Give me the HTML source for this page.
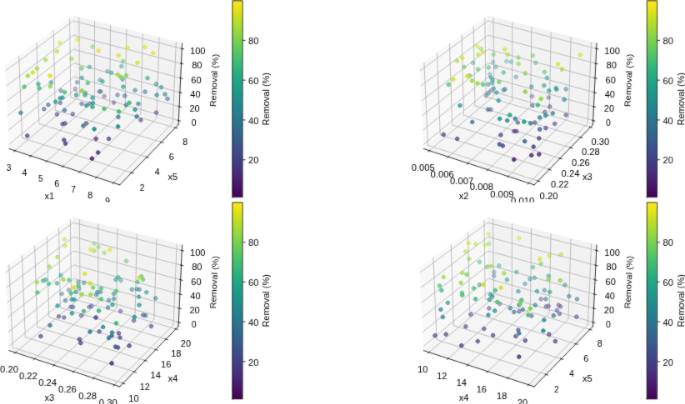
<!DOCTYPE html><html><head><meta charset="utf-8"><style>html,body{margin:0;padding:0;background:#fff;overflow:hidden}svg{display:block;will-change:transform}</style></head><body><svg width="685" height="404" viewBox="0 0 822 484.8">
 
 <defs><filter id="bl" x="0" y="0" width="1" height="1" color-interpolation-filters="sRGB"><feConvolveMatrix order="3" kernelMatrix="0.00524 0.06192 0.00524 0.06192 0.73137 0.06192 0.00524 0.06192 0.00524" edgeMode="duplicate"/></filter><linearGradient id="vir" x1="0" y1="0" x2="0" y2="1"><stop offset="0.0000" stop-color="#440154"/><stop offset="0.0156" stop-color="#46075a"/><stop offset="0.0312" stop-color="#470d60"/><stop offset="0.0469" stop-color="#471365"/><stop offset="0.0625" stop-color="#48186a"/><stop offset="0.0781" stop-color="#481d6f"/><stop offset="0.0938" stop-color="#482374"/><stop offset="0.1094" stop-color="#482878"/><stop offset="0.1250" stop-color="#472d7b"/><stop offset="0.1406" stop-color="#46327e"/><stop offset="0.1562" stop-color="#453781"/><stop offset="0.1719" stop-color="#443b84"/><stop offset="0.1875" stop-color="#424086"/><stop offset="0.2031" stop-color="#404588"/><stop offset="0.2188" stop-color="#3e4989"/><stop offset="0.2344" stop-color="#3d4e8a"/><stop offset="0.2500" stop-color="#3b528b"/><stop offset="0.2656" stop-color="#39568c"/><stop offset="0.2812" stop-color="#375b8d"/><stop offset="0.2969" stop-color="#355f8d"/><stop offset="0.3125" stop-color="#33638d"/><stop offset="0.3281" stop-color="#31678e"/><stop offset="0.3438" stop-color="#2f6b8e"/><stop offset="0.3594" stop-color="#2e6f8e"/><stop offset="0.3750" stop-color="#2c728e"/><stop offset="0.3906" stop-color="#2a768e"/><stop offset="0.4062" stop-color="#297a8e"/><stop offset="0.4219" stop-color="#277e8e"/><stop offset="0.4375" stop-color="#26828e"/><stop offset="0.4531" stop-color="#25858e"/><stop offset="0.4688" stop-color="#23898e"/><stop offset="0.4844" stop-color="#228d8d"/><stop offset="0.5000" stop-color="#21918c"/><stop offset="0.5156" stop-color="#1f948c"/><stop offset="0.5312" stop-color="#1f988b"/><stop offset="0.5469" stop-color="#1e9c89"/><stop offset="0.5625" stop-color="#1fa088"/><stop offset="0.5781" stop-color="#20a386"/><stop offset="0.5938" stop-color="#22a785"/><stop offset="0.6094" stop-color="#25ab82"/><stop offset="0.6250" stop-color="#28ae80"/><stop offset="0.6406" stop-color="#2db27d"/><stop offset="0.6562" stop-color="#32b67a"/><stop offset="0.6719" stop-color="#38b977"/><stop offset="0.6875" stop-color="#3fbc73"/><stop offset="0.7031" stop-color="#46c06f"/><stop offset="0.7188" stop-color="#4ec36b"/><stop offset="0.7344" stop-color="#56c667"/><stop offset="0.7500" stop-color="#5ec962"/><stop offset="0.7656" stop-color="#67cc5c"/><stop offset="0.7812" stop-color="#70cf57"/><stop offset="0.7969" stop-color="#7ad151"/><stop offset="0.8125" stop-color="#84d44b"/><stop offset="0.8281" stop-color="#8ed645"/><stop offset="0.8438" stop-color="#98d83e"/><stop offset="0.8594" stop-color="#a2da37"/><stop offset="0.8750" stop-color="#addc30"/><stop offset="0.8906" stop-color="#b8de29"/><stop offset="0.9062" stop-color="#c2df23"/><stop offset="0.9219" stop-color="#cde11d"/><stop offset="0.9375" stop-color="#d8e219"/><stop offset="0.9531" stop-color="#e2e418"/><stop offset="0.9688" stop-color="#ece51b"/><stop offset="0.9844" stop-color="#f6e620"/><stop offset="1.0000" stop-color="#fde725"/></linearGradient>
  <style type="text/css">*{stroke-linejoin: round; stroke-linecap: butt}</style>
 </defs>
 <g id="figure_1" filter="url(#bl)">
  <g id="patch_1">
   <path d="M 0 484.8 
L 822 484.8 
L 822 0 
L 0 0 
z
" style="fill: #ffffff"/>
  </g>
  <g id="patch_2">
   <path d="M -6.84 236.76 
L 229.32 236.76 
L 229.32 0.6 
L -6.84 0.6 
z
" style="fill: #ffffff"/>
  </g>
  <g id="pane3d_1">
   <g id="patch_3">
    <path d="M 10.991709 178.530512 
L 88.979453 113.159638 
L 87.895349 18.883152 
L 6.175489 78.518584 
" style="fill: #f2f2f2; opacity: 0.5; stroke: #f2f2f2; stroke-linejoin: miter"/>
   </g>
  </g>
  <g id="pane3d_2">
   <g id="patch_4">
    <path d="M 88.979453 113.159638 
L 214.121957 149.533624 
L 218.587852 52.009892 
L 87.895349 18.883152 
" style="fill: #e6e6e6; opacity: 0.5; stroke: #e6e6e6; stroke-linejoin: miter"/>
   </g>
  </g>
  <g id="pane3d_3">
   <g id="patch_5">
    <path d="M 10.991709 178.530512 
L 143.648875 221.856343 
L 214.121957 149.533624 
L 88.979453 113.159638 
" style="fill: #ececec; opacity: 0.5; stroke: #ececec; stroke-linejoin: miter"/>
   </g>
  </g>
  <g id="grid3d_1">
   <g id="Line3DCollection_1">
    <path d="M 18.005049 180.821069 
L 95.623228 115.090721 
L 94.819915 20.638328 
" style="fill: none; stroke: #b0b0b0; stroke-width: 0.8"/>
    <path d="M 36.956056 187.010468 
L 113.560083 120.304257 
L 113.522596 25.378912 
" style="fill: none; stroke: #b0b0b0; stroke-width: 0.8"/>
    <path d="M 56.201718 193.296101 
L 131.752652 125.592119 
L 132.503466 30.190009 
" style="fill: none; stroke: #b0b0b0; stroke-width: 0.8"/>
    <path d="M 75.748961 199.680231 
L 150.206443 130.955907 
L 151.768779 35.073205 
" style="fill: none; stroke: #b0b0b0; stroke-width: 0.8"/>
    <path d="M 95.604929 206.16519 
L 168.927121 136.397269 
L 171.324976 40.030131 
" style="fill: none; stroke: #b0b0b0; stroke-width: 0.8"/>
    <path d="M 115.776995 212.753387 
L 187.920519 141.9179 
L 191.178696 45.06247 
" style="fill: none; stroke: #b0b0b0; stroke-width: 0.8"/>
    <path d="M 136.272767 219.447306 
L 207.192641 147.519545 
L 211.33678 50.171957 
" style="fill: none; stroke: #b0b0b0; stroke-width: 0.8"/>
   </g>
  </g>
  <g id="grid3d_2">
   <g id="Line3DCollection_2">
    <path d="M 22.580982 66.546602 
L 26.600508 165.446907 
L 157.803534 207.330181 
" style="fill: none; stroke: #b0b0b0; stroke-width: 0.8"/>
    <path d="M 43.837099 51.034856 
L 46.859759 148.465202 
L 176.138088 188.514418 
" style="fill: none; stroke: #b0b0b0; stroke-width: 0.8"/>
    <path d="M 64.155955 36.207081 
L 66.263144 132.200899 
L 193.658694 170.533965 
" style="fill: none; stroke: #b0b0b0; stroke-width: 0.8"/>
    <path d="M 83.598203 22.019014 
L 84.863778 116.609479 
L 210.418379 153.334406 
" style="fill: none; stroke: #b0b0b0; stroke-width: 0.8"/>
   </g>
  </g>
  <g id="grid3d_3">
   <g id="Line3DCollection_3">
    <path d="M 214.349233 144.570492 
L 88.924171 108.352142 
L 10.746996 173.448892 
" style="fill: none; stroke: #b0b0b0; stroke-width: 0.8"/>
    <path d="M 215.114362 127.862029 
L 88.738149 92.175223 
L 9.922857 156.335126 
" style="fill: none; stroke: #b0b0b0; stroke-width: 0.8"/>
    <path d="M 215.8913 110.895699 
L 88.549394 75.760618 
L 9.085513 138.947122 
" style="fill: none; stroke: #b0b0b0; stroke-width: 0.8"/>
    <path d="M 216.680321 93.665485 
L 88.357846 59.103048 
L 8.234642 121.278235 
" style="fill: none; stroke: #b0b0b0; stroke-width: 0.8"/>
    <path d="M 217.481711 76.165183 
L 88.16344 42.197079 
L 7.369914 103.321603 
" style="fill: none; stroke: #b0b0b0; stroke-width: 0.8"/>
    <path d="M 218.295762 58.388392 
L 87.966115 25.037113 
L 6.490988 85.070139 
" style="fill: none; stroke: #b0b0b0; stroke-width: 0.8"/>
   </g>
  </g>
  <g id="axis3d_1">
   <g id="line2d_1">
    <path d="M 10.991709 178.530512 
L 143.648875 221.856343 
" style="fill: none; stroke: #000000; stroke-width: 0.8; stroke-linecap: square"/>
   </g>
   <g id="xtick_1">
    <g id="line2d_2">
     <path d="M 18.680921 180.248712 
L 16.650406 181.968238 
" style="fill: none; stroke: #000000; stroke-width: 0.8; stroke-linecap: square"/>
    </g>
    <g id="text_1">
     <text style="font-size: 10px; font-family: 'Liberation Sans'; text-anchor: middle" x="10.471314" y="204.129674" transform="translate(0.000 0.960) rotate(-0 10.471314 204.129674)" textLength="5.620" lengthAdjust="spacingAndGlyphs">3</text>
    </g>
   </g>
   <g id="xtick_2">
    <g id="line2d_3">
     <path d="M 37.623515 186.42925 
L 35.618253 188.175417 
" style="fill: none; stroke: #000000; stroke-width: 0.8; stroke-linecap: square"/>
    </g>
    <g id="text_2">
     <text style="font-size: 10px; font-family: 'Liberation Sans'; text-anchor: middle" x="29.443959" y="210.466903" transform="translate(0.000 0.960) rotate(-0 29.443959 210.466903)" textLength="5.837" lengthAdjust="spacingAndGlyphs">4</text>
    </g>
   </g>
   <g id="xtick_3">
    <g id="line2d_4">
     <path d="M 56.86042 192.705814 
L 54.881445 194.479247 
" style="fill: none; stroke: #000000; stroke-width: 0.8; stroke-linecap: square"/>
    </g>
    <g id="text_3">
     <text style="font-size: 10px; font-family: 'Liberation Sans'; text-anchor: middle" x="48.71285" y="216.903084" transform="translate(0.000 0.960) rotate(-0 48.71285 216.903084)" textLength="5.562" lengthAdjust="spacingAndGlyphs">5</text>
    </g>
   </g>
   <g id="xtick_4">
    <g id="line2d_5">
     <path d="M 76.398548 199.080661 
L 74.446934 200.882002 
" style="fill: none; stroke: #000000; stroke-width: 0.8; stroke-linecap: square"/>
    </g>
    <g id="text_4">
     <text style="font-size: 10px; font-family: 'Liberation Sans'; text-anchor: middle" x="68.284981" y="223.440553" transform="translate(0.000 0.960) rotate(-0 68.284981 223.440553)" textLength="6.040" lengthAdjust="spacingAndGlyphs">6</text>
    </g>
   </g>
   <g id="xtick_5">
    <g id="line2d_6">
     <path d="M 96.245031 205.556117 
L 94.321893 207.386031 
" style="fill: none; stroke: #000000; stroke-width: 0.8; stroke-linecap: square"/>
    </g>
    <g id="text_5">
     <text style="font-size: 10px; font-family: 'Liberation Sans'; text-anchor: middle" x="88.167566" y="230.081719" transform="translate(0.000 0.960) rotate(-0 88.167566 230.081719)" textLength="5.745" lengthAdjust="spacingAndGlyphs">7</text>
    </g>
   </g>
   <g id="xtick_6">
    <g id="line2d_7">
     <path d="M 116.407225 212.134582 
L 114.513722 213.993755 
" style="fill: none; stroke: #000000; stroke-width: 0.8; stroke-linecap: square"/>
    </g>
    <g id="text_6">
     <text style="font-size: 10px; font-family: 'Liberation Sans'; text-anchor: middle" x="108.368052" y="236.829071" transform="translate(0.000 0.960) rotate(-0 108.368052 236.829071)" textLength="5.976" lengthAdjust="spacingAndGlyphs">8</text>
    </g>
   </g>
   <g id="xtick_7">
    <g id="line2d_8">
     <path d="M 136.892726 218.818535 
L 135.03006 220.707673 
" style="fill: none; stroke: #000000; stroke-width: 0.8; stroke-linecap: square"/>
    </g>
    <g id="text_7">
     <text style="font-size: 10px; font-family: 'Liberation Sans'; text-anchor: middle" x="128.894123" y="243.685174" transform="translate(0.000 0.960) rotate(-0 128.894123 243.685174)" textLength="5.980" lengthAdjust="spacingAndGlyphs">9</text>
    </g>
   </g>
   <g id="text_8">
    <text style="font-size: 10px; font-family: 'Liberation Sans'; text-anchor: middle" x="59.263039" y="237.690924" transform="translate(0.000 0.960) rotate(-0 59.263039 237.690924)" textLength="11.671" lengthAdjust="spacingAndGlyphs">x1</text>
   </g>
  </g>
  <g id="axis3d_2">
   <g id="line2d_9">
    <path d="M 214.121957 149.533624 
L 143.648875 221.856343 
" style="fill: none; stroke: #000000; stroke-width: 0.8; stroke-linecap: square"/>
   </g>
   <g id="xtick_8">
    <g id="line2d_10">
     <path d="M 156.698518 206.977432 
L 160.01639 208.03658 
" style="fill: none; stroke: #000000; stroke-width: 0.8; stroke-linecap: square"/>
    </g>
    <g id="text_9">
     <text style="font-size: 10px; font-family: 'Liberation Sans'; text-anchor: middle" x="170.544933" y="228.194007" transform="translate(0.000 0.960) rotate(-0 170.544933 228.194007)" textLength="5.623" lengthAdjust="spacingAndGlyphs">2</text>
    </g>
   </g>
   <g id="xtick_9">
    <g id="line2d_11">
     <path d="M 175.05052 188.1775 
L 178.315939 189.189096 
" style="fill: none; stroke: #000000; stroke-width: 0.8; stroke-linecap: square"/>
    </g>
    <g id="text_10">
     <text style="font-size: 10px; font-family: 'Liberation Sans'; text-anchor: middle" x="188.602009" y="209.064644" transform="translate(0.000 0.960) rotate(-0 188.602009 209.064644)" textLength="5.837" lengthAdjust="spacingAndGlyphs">4</text>
    </g>
   </g>
   <g id="xtick_10">
    <g id="line2d_12">
     <path d="M 192.588133 170.211835 
L 195.802434 171.179012 
" style="fill: none; stroke: #000000; stroke-width: 0.8; stroke-linecap: square"/>
    </g>
    <g id="text_11">
     <text style="font-size: 10px; font-family: 'Liberation Sans'; text-anchor: middle" x="205.856945" y="190.785055" transform="translate(0.000 0.960) rotate(-0 205.856945 190.785055)" textLength="6.040" lengthAdjust="spacingAndGlyphs">6</text>
    </g>
   </g>
   <g id="xtick_11">
    <g id="line2d_13">
     <path d="M 209.364387 153.026112 
L 212.528882 153.951732 
" style="fill: none; stroke: #000000; stroke-width: 0.8; stroke-linecap: square"/>
    </g>
    <g id="text_12">
     <text style="font-size: 10px; font-family: 'Liberation Sans'; text-anchor: middle" x="222.36203" y="173.299845" transform="translate(0.000 0.960) rotate(-0 222.36203 173.299845)" textLength="5.976" lengthAdjust="spacingAndGlyphs">8</text>
    </g>
   </g>
   <g id="text_13">
    <text style="font-size: 10px; font-family: 'Liberation Sans'; text-anchor: middle" x="207.437444" y="214.851139" transform="translate(0.000 0.960) rotate(-0 207.437444 214.851139)" textLength="11.665" lengthAdjust="spacingAndGlyphs">x5</text>
   </g>
  </g>
  <g id="axis3d_3">
   <g id="line2d_14">
    <path d="M 214.121957 149.533624 
L 218.587852 52.009892 
" style="fill: none; stroke: #000000; stroke-width: 0.8; stroke-linecap: square"/>
   </g>
   <g id="xtick_12">
    <g id="line2d_15">
     <path d="M 213.296459 144.266488 
L 216.457291 145.179225 
" style="fill: none; stroke: #000000; stroke-width: 0.8; stroke-linecap: square"/>
    </g>
    <g id="text_14">
     <text style="font-size: 10px; font-family: 'Liberation Sans'; text-anchor: middle" x="232.631614" y="149.575805" transform="translate(0.000 0.960) rotate(-0 232.631614 149.575805)" textLength="5.851" lengthAdjust="spacingAndGlyphs">0</text>
    </g>
   </g>
   <g id="xtick_13">
    <g id="line2d_16">
     <path d="M 214.053224 127.562379 
L 217.239188 128.462049 
" style="fill: none; stroke: #000000; stroke-width: 0.8; stroke-linecap: square"/>
    </g>
    <g id="text_15">
     <text style="font-size: 10px; font-family: 'Liberation Sans'; text-anchor: middle" x="233.533654" y="132.904541" transform="translate(0.000 0.960) rotate(-0 233.533654 132.904541)" textLength="12.263" lengthAdjust="spacingAndGlyphs">20</text>
    </g>
   </g>
   <g id="xtick_14">
    <g id="line2d_17">
     <path d="M 214.821663 110.600574 
L 218.033162 111.486663 
" style="fill: none; stroke: #000000; stroke-width: 0.8; stroke-linecap: square"/>
    </g>
    <g id="text_16">
     <text style="font-size: 10px; font-family: 'Liberation Sans'; text-anchor: middle" x="234.449569" y="115.976867" transform="translate(0.000 0.960) rotate(-0 234.449569 115.976867)" textLength="12.177" lengthAdjust="spacingAndGlyphs">40</text>
    </g>
   </g>
   <g id="xtick_15">
    <g id="line2d_18">
     <path d="M 215.60205 93.375063 
L 218.839496 94.247038 
" style="fill: none; stroke: #000000; stroke-width: 0.8; stroke-linecap: square"/>
    </g>
    <g id="text_17">
     <text style="font-size: 10px; font-family: 'Liberation Sans'; text-anchor: middle" x="235.379679" y="98.786823" transform="translate(0.000 0.960) rotate(-0 235.379679 98.786823)" textLength="12.317" lengthAdjust="spacingAndGlyphs">60</text>
    </g>
   </g>
   <g id="xtick_16">
    <g id="line2d_19">
     <path d="M 216.394664 75.879648 
L 219.658479 76.736956 
" style="fill: none; stroke: #000000; stroke-width: 0.8; stroke-linecap: square"/>
    </g>
    <g id="text_18">
     <text style="font-size: 10px; font-family: 'Liberation Sans'; text-anchor: middle" x="236.324319" y="81.328261" transform="translate(0.000 0.960) rotate(-0 236.324319 81.328261)" textLength="12.311" lengthAdjust="spacingAndGlyphs">80</text>
    </g>
   </g>
   <g id="xtick_17">
    <g id="line2d_20">
     <path d="M 217.199795 58.107935 
L 220.490412 58.950002 
" style="fill: none; stroke: #000000; stroke-width: 0.8; stroke-linecap: square"/>
    </g>
    <g id="text_19">
     <text style="font-size: 10px; font-family: 'Liberation Sans'; text-anchor: middle" x="237.28383" y="63.59484" transform="translate(0.000 0.960) rotate(-0 237.28383 63.59484)" textLength="18.616" lengthAdjust="spacingAndGlyphs">100</text>
    </g>
   </g>
   <g id="text_20">
    <text style="font-size: 10px; font-family: 'Liberation Sans'; text-anchor: middle" x="259.404319" y="96.561481" transform="translate(0.959 0.044) rotate(-87.378092 259.404319 96.561481)" textLength="63.531" lengthAdjust="spacingAndGlyphs">Removal (%)</text>
   </g>
  </g>
  <g id="axes_1">
   <g id="Path3DCollection_1">
    <defs>
     <path id="C0_0_fc6b160f12" d="M 0 2.291288 
C 0.607657 2.291288 1.190507 2.049863 1.620185 1.620185 
C 2.049863 1.190507 2.291288 0.607657 2.291288 -0 
C 2.291288 -0.607657 2.049863 -1.190507 1.620185 -1.620185 
C 1.190507 -2.049863 0.607657 -2.291288 0 -2.291288 
C -0.607657 -2.291288 -1.190507 -2.049863 -1.620185 -1.620185 
C -2.049863 -1.190507 -2.291288 -0.607657 -2.291288 0 
C -2.291288 0.607657 -2.049863 1.190507 -1.620185 1.620185 
C -1.190507 2.049863 -0.607657 2.291288 0 2.291288 
z
"/>
    </defs>
    <g clip-path="url(#p2b1c7608ae)">
     <use href="#C0_0_fc6b160f12" x="90.3" y="106.5" style="fill: #46307e; fill-opacity: 0.3; stroke: #46307e; stroke-opacity: 0.3"/>
    </g>
    <g clip-path="url(#p2b1c7608ae)">
     <use href="#C0_0_fc6b160f12" x="102.6" y="111.3" style="fill: #46307e; fill-opacity: 0.334405; stroke: #46307e; stroke-opacity: 0.334405"/>
    </g>
    <g clip-path="url(#p2b1c7608ae)">
     <use href="#C0_0_fc6b160f12" x="125.1" y="115.5" style="fill: #482878; fill-opacity: 0.340923; stroke: #482878; stroke-opacity: 0.340923"/>
    </g>
    <g clip-path="url(#p2b1c7608ae)">
     <use href="#C0_0_fc6b160f12" x="120.9" y="109.8" style="fill: #443a83; fill-opacity: 0.347269; stroke: #443a83; stroke-opacity: 0.347269"/>
    </g>
    <g clip-path="url(#p2b1c7608ae)">
     <use href="#C0_0_fc6b160f12" x="120" y="96" style="fill: #306a8e; fill-opacity: 0.383252; stroke: #306a8e; stroke-opacity: 0.383252"/>
    </g>
    <g clip-path="url(#p2b1c7608ae)">
     <use href="#C0_0_fc6b160f12" x="92.7" y="98.7" style="fill: #32658e; fill-opacity: 0.38685; stroke: #32658e; stroke-opacity: 0.38685"/>
    </g>
    <g clip-path="url(#p2b1c7608ae)">
     <use href="#C0_0_fc6b160f12" x="129" y="85.5" style="fill: #26828e; fill-opacity: 0.387434; stroke: #26828e; stroke-opacity: 0.387434"/>
    </g>
    <g clip-path="url(#p2b1c7608ae)">
     <use href="#C0_0_fc6b160f12" x="136.5" y="123" style="fill: #482878; fill-opacity: 0.394441; stroke: #482878; stroke-opacity: 0.394441"/>
    </g>
    <g clip-path="url(#p2b1c7608ae)">
     <use href="#C0_0_fc6b160f12" x="107.4" y="124.5" style="fill: #46307e; fill-opacity: 0.42902; stroke: #46307e; stroke-opacity: 0.42902"/>
    </g>
    <g clip-path="url(#p2b1c7608ae)">
     <use href="#C0_0_fc6b160f12" x="141" y="114" style="fill: #3c4f8a; fill-opacity: 0.433771; stroke: #3c4f8a; stroke-opacity: 0.433771"/>
    </g>
    <g clip-path="url(#p2b1c7608ae)">
     <use href="#C0_0_fc6b160f12" x="73.2" y="108.9" style="fill: #365d8d; fill-opacity: 0.4373; stroke: #365d8d; stroke-opacity: 0.4373"/>
    </g>
    <g clip-path="url(#p2b1c7608ae)">
     <use href="#C0_0_fc6b160f12" x="111" y="56.1" style="fill: #6ece58; fill-opacity: 0.44376; stroke: #6ece58; stroke-opacity: 0.44376"/>
    </g>
    <g clip-path="url(#p2b1c7608ae)">
     <use href="#C0_0_fc6b160f12" x="119.4" y="109.8" style="fill: #365d8d; fill-opacity: 0.443899; stroke: #365d8d; stroke-opacity: 0.443899"/>
    </g>
    <g clip-path="url(#p2b1c7608ae)">
     <use href="#C0_0_fc6b160f12" x="145.8" y="79.5" style="fill: #1fa287; fill-opacity: 0.451672; stroke: #1fa287; stroke-opacity: 0.451672"/>
    </g>
    <g clip-path="url(#p2b1c7608ae)">
     <use href="#C0_0_fc6b160f12" x="107.4" y="80.4" style="fill: #1fa287; fill-opacity: 0.458566; stroke: #1fa287; stroke-opacity: 0.458566"/>
    </g>
    <g clip-path="url(#p2b1c7608ae)">
     <use href="#C0_0_fc6b160f12" x="162" y="108.3" style="fill: #2c718e; fill-opacity: 0.499179; stroke: #2c718e; stroke-opacity: 0.499179"/>
    </g>
    <g clip-path="url(#p2b1c7608ae)">
     <use href="#C0_0_fc6b160f12" x="98.1" y="93.3" style="fill: #20938c; fill-opacity: 0.505391; stroke: #20938c; stroke-opacity: 0.505391"/>
    </g>
    <g clip-path="url(#p2b1c7608ae)">
     <use href="#C0_0_fc6b160f12" x="133.8" y="87.3" style="fill: #1fa287; fill-opacity: 0.511422; stroke: #1fa287; stroke-opacity: 0.511422"/>
    </g>
    <g clip-path="url(#p2b1c7608ae)">
     <use href="#C0_0_fc6b160f12" x="174" y="110.1" style="fill: #2c718e; fill-opacity: 0.51254; stroke: #2c718e; stroke-opacity: 0.51254"/>
    </g>
    <g clip-path="url(#p2b1c7608ae)">
     <use href="#C0_0_fc6b160f12" x="87.3" y="136.8" style="fill: #46307e; fill-opacity: 0.517184; stroke: #46307e; stroke-opacity: 0.517184"/>
    </g>
    <g clip-path="url(#p2b1c7608ae)">
     <use href="#C0_0_fc6b160f12" x="147" y="95.1" style="fill: #20938c; fill-opacity: 0.519049; stroke: #20938c; stroke-opacity: 0.519049"/>
    </g>
    <g clip-path="url(#p2b1c7608ae)">
     <use href="#C0_0_fc6b160f12" x="68.4" y="137.1" style="fill: #46307e; fill-opacity: 0.519335; stroke: #46307e; stroke-opacity: 0.519335"/>
    </g>
    <g clip-path="url(#p2b1c7608ae)">
     <use href="#C0_0_fc6b160f12" x="149.7" y="114.9" style="fill: #306a8e; fill-opacity: 0.522899; stroke: #306a8e; stroke-opacity: 0.522899"/>
    </g>
    <g clip-path="url(#p2b1c7608ae)">
     <use href="#C0_0_fc6b160f12" x="93.6" y="47.4" style="fill: #dfe318; fill-opacity: 0.527715; stroke: #dfe318; stroke-opacity: 0.527715"/>
    </g>
    <g clip-path="url(#p2b1c7608ae)">
     <use href="#C0_0_fc6b160f12" x="187.5" y="135" style="fill: #443a83; fill-opacity: 0.528712; stroke: #443a83; stroke-opacity: 0.528712"/>
    </g>
    <g clip-path="url(#p2b1c7608ae)">
     <use href="#C0_0_fc6b160f12" x="52.8" y="130.8" style="fill: #404688; fill-opacity: 0.531206; stroke: #404688; stroke-opacity: 0.531206"/>
    </g>
    <g clip-path="url(#p2b1c7608ae)">
     <use href="#C0_0_fc6b160f12" x="198" y="113.1" style="fill: #2c718e; fill-opacity: 0.534809; stroke: #2c718e; stroke-opacity: 0.534809"/>
    </g>
    <g clip-path="url(#p2b1c7608ae)">
     <use href="#C0_0_fc6b160f12" x="98.1" y="124.5" style="fill: #38588c; fill-opacity: 0.535003; stroke: #38588c; stroke-opacity: 0.535003"/>
    </g>
    <g clip-path="url(#p2b1c7608ae)">
     <use href="#C0_0_fc6b160f12" x="72.3" y="123.3" style="fill: #365d8d; fill-opacity: 0.542884; stroke: #365d8d; stroke-opacity: 0.542884"/>
    </g>
    <g clip-path="url(#p2b1c7608ae)">
     <use href="#C0_0_fc6b160f12" x="201" y="118.5" style="fill: #306a8e; fill-opacity: 0.549498; stroke: #306a8e; stroke-opacity: 0.549498"/>
    </g>
    <g clip-path="url(#p2b1c7608ae)">
     <use href="#C0_0_fc6b160f12" x="147.6" y="73.5" style="fill: #5cc863; fill-opacity: 0.554351; stroke: #5cc863; stroke-opacity: 0.554351"/>
    </g>
    <g clip-path="url(#p2b1c7608ae)">
     <use href="#C0_0_fc6b160f12" x="78.000001" y="147.9" style="fill: #482071; fill-opacity: 0.555828; stroke: #482071; stroke-opacity: 0.555828"/>
    </g>
    <g clip-path="url(#p2b1c7608ae)">
     <use href="#C0_0_fc6b160f12" x="177" y="93.6" style="fill: #1fa287; fill-opacity: 0.559681; stroke: #1fa287; stroke-opacity: 0.559681"/>
    </g>
    <g clip-path="url(#p2b1c7608ae)">
     <use href="#C0_0_fc6b160f12" x="72" y="51.6" style="fill: #dfe318; fill-opacity: 0.56191; stroke: #dfe318; stroke-opacity: 0.56191"/>
    </g>
    <g clip-path="url(#p2b1c7608ae)">
     <use href="#C0_0_fc6b160f12" x="75" y="148.8" style="fill: #482071; fill-opacity: 0.562232; stroke: #482071; stroke-opacity: 0.562232"/>
    </g>
    <g clip-path="url(#p2b1c7608ae)">
     <use href="#C0_0_fc6b160f12" x="187.5" y="100.8" style="fill: #20938c; fill-opacity: 0.562298; stroke: #20938c; stroke-opacity: 0.562298"/>
    </g>
    <g clip-path="url(#p2b1c7608ae)">
     <use href="#C0_0_fc6b160f12" x="45.9" y="100.8" style="fill: #20938c; fill-opacity: 0.562298; stroke: #20938c; stroke-opacity: 0.562298"/>
    </g>
    <g clip-path="url(#p2b1c7608ae)">
     <use href="#C0_0_fc6b160f12" x="193.5" y="104.7" style="fill: #218f8d; fill-opacity: 0.574504; stroke: #218f8d; stroke-opacity: 0.574504"/>
    </g>
    <g clip-path="url(#p2b1c7608ae)">
     <use href="#C0_0_fc6b160f12" x="61.5" y="99" style="fill: #1e9b8a; fill-opacity: 0.574718; stroke: #1e9b8a; stroke-opacity: 0.574718"/>
    </g>
    <g clip-path="url(#p2b1c7608ae)">
     <use href="#C0_0_fc6b160f12" x="68.4" y="61.8" style="fill: #b0dd2f; fill-opacity: 0.579603; stroke: #b0dd2f; stroke-opacity: 0.579603"/>
    </g>
    <g clip-path="url(#p2b1c7608ae)">
     <use href="#C0_0_fc6b160f12" x="168.9" y="144" style="fill: #443a83; fill-opacity: 0.593512; stroke: #443a83; stroke-opacity: 0.593512"/>
    </g>
    <g clip-path="url(#p2b1c7608ae)">
     <use href="#C0_0_fc6b160f12" x="103.5" y="147.9" style="fill: #46307e; fill-opacity: 0.596747; stroke: #46307e; stroke-opacity: 0.596747"/>
    </g>
    <g clip-path="url(#p2b1c7608ae)">
     <use href="#C0_0_fc6b160f12" x="174" y="56.4" style="fill: #dfe318; fill-opacity: 0.600989; stroke: #dfe318; stroke-opacity: 0.600989"/>
    </g>
    <g clip-path="url(#p2b1c7608ae)">
     <use href="#C0_0_fc6b160f12" x="57.9" y="125.7" style="fill: #306a8e; fill-opacity: 0.602697; stroke: #306a8e; stroke-opacity: 0.602697"/>
    </g>
    <g clip-path="url(#p2b1c7608ae)">
     <use href="#C0_0_fc6b160f12" x="153" y="57.3" style="fill: #dfe318; fill-opacity: 0.608316; stroke: #dfe318; stroke-opacity: 0.608316"/>
    </g>
    <g clip-path="url(#p2b1c7608ae)">
     <use href="#C0_0_fc6b160f12" x="123" y="97.8" style="fill: #22a785; fill-opacity: 0.609518; stroke: #22a785; stroke-opacity: 0.609518"/>
    </g>
    <g clip-path="url(#p2b1c7608ae)">
     <use href="#C0_0_fc6b160f12" x="165.899999" y="124.5" style="fill: #2c718e; fill-opacity: 0.619432; stroke: #2c718e; stroke-opacity: 0.619432"/>
    </g>
    <g clip-path="url(#p2b1c7608ae)">
     <use href="#C0_0_fc6b160f12" x="97.8" y="81.9" style="fill: #5cc863; fill-opacity: 0.620493; stroke: #5cc863; stroke-opacity: 0.620493"/>
    </g>
    <g clip-path="url(#p2b1c7608ae)">
     <use href="#C0_0_fc6b160f12" x="85.8" y="70.5" style="fill: #9bd93c; fill-opacity: 0.621711; stroke: #9bd93c; stroke-opacity: 0.621711"/>
    </g>
    <g clip-path="url(#p2b1c7608ae)">
     <use href="#C0_0_fc6b160f12" x="188.1" y="114" style="fill: #238a8d; fill-opacity: 0.627348; stroke: #238a8d; stroke-opacity: 0.627348"/>
    </g>
    <g clip-path="url(#p2b1c7608ae)">
     <use href="#C0_0_fc6b160f12" x="91.500003" y="114" style="fill: #238a8d; fill-opacity: 0.627348; stroke: #238a8d; stroke-opacity: 0.627348"/>
    </g>
    <g clip-path="url(#p2b1c7608ae)">
     <use href="#C0_0_fc6b160f12" x="118.2" y="60.9" style="fill: #dfe318; fill-opacity: 0.637626; stroke: #dfe318; stroke-opacity: 0.637626"/>
    </g>
    <g clip-path="url(#p2b1c7608ae)">
     <use href="#C0_0_fc6b160f12" x="147.9" y="104.1" style="fill: #1fa287; fill-opacity: 0.640114; stroke: #1fa287; stroke-opacity: 0.640114"/>
    </g>
    <g clip-path="url(#p2b1c7608ae)">
     <use href="#C0_0_fc6b160f12" x="54.6" y="71.7" style="fill: #a0da39; fill-opacity: 0.6406; stroke: #a0da39; stroke-opacity: 0.6406"/>
    </g>
    <g clip-path="url(#p2b1c7608ae)">
     <use href="#C0_0_fc6b160f12" x="115.2" y="166.5" style="fill: #470e61; fill-opacity: 0.64687; stroke: #470e61; stroke-opacity: 0.64687"/>
    </g>
    <g clip-path="url(#p2b1c7608ae)">
     <use href="#C0_0_fc6b160f12" x="77.399997" y="132.3" style="fill: #306a8e; fill-opacity: 0.651462; stroke: #306a8e; stroke-opacity: 0.651462"/>
    </g>
    <g clip-path="url(#p2b1c7608ae)">
     <use href="#C0_0_fc6b160f12" x="183.6" y="63.6" style="fill: #dfe318; fill-opacity: 0.659608; stroke: #dfe318; stroke-opacity: 0.659608"/>
    </g>
    <g clip-path="url(#p2b1c7608ae)">
     <use href="#C0_0_fc6b160f12" x="142.2" y="66.3" style="fill: #d2e21b; fill-opacity: 0.662636; stroke: #d2e21b; stroke-opacity: 0.662636"/>
    </g>
    <g clip-path="url(#p2b1c7608ae)">
     <use href="#C0_0_fc6b160f12" x="151.500003" y="126" style="fill: #297b8e; fill-opacity: 0.665144; stroke: #297b8e; stroke-opacity: 0.665144"/>
    </g>
    <g clip-path="url(#p2b1c7608ae)">
     <use href="#C0_0_fc6b160f12" x="71.999999" y="117.9" style="fill: #218f8d; fill-opacity: 0.674343; stroke: #218f8d; stroke-opacity: 0.674343"/>
    </g>
    <g clip-path="url(#p2b1c7608ae)">
     <use href="#C0_0_fc6b160f12" x="74.999998" y="117" style="fill: #20938c; fill-opacity: 0.685215; stroke: #20938c; stroke-opacity: 0.685215"/>
    </g>
    <g clip-path="url(#p2b1c7608ae)">
     <use href="#C0_0_fc6b160f12" x="111" y="117.3" style="fill: #20938c; fill-opacity: 0.687491; stroke: #20938c; stroke-opacity: 0.687491"/>
    </g>
    <g clip-path="url(#p2b1c7608ae)">
     <use href="#C0_0_fc6b160f12" x="32.7" y="162.9" style="fill: #46307e; fill-opacity: 0.704264; stroke: #46307e; stroke-opacity: 0.704264"/>
    </g>
    <g clip-path="url(#p2b1c7608ae)">
     <use href="#C0_0_fc6b160f12" x="66.6" y="122.1" style="fill: #218f8d; fill-opacity: 0.70611; stroke: #218f8d; stroke-opacity: 0.70611"/>
    </g>
    <g clip-path="url(#p2b1c7608ae)">
     <use href="#C0_0_fc6b160f12" x="141.9" y="140.4" style="fill: #306a8e; fill-opacity: 0.711311; stroke: #306a8e; stroke-opacity: 0.711311"/>
    </g>
    <g clip-path="url(#p2b1c7608ae)">
     <use href="#C0_0_fc6b160f12" x="44.4" y="82.2" style="fill: #9bd93c; fill-opacity: 0.715377; stroke: #9bd93c; stroke-opacity: 0.715377"/>
    </g>
    <g clip-path="url(#p2b1c7608ae)">
     <use href="#C0_0_fc6b160f12" x="130.5" y="166.5" style="fill: #46307e; fill-opacity: 0.730068; stroke: #46307e; stroke-opacity: 0.730068"/>
    </g>
    <g clip-path="url(#p2b1c7608ae)">
     <use href="#C0_0_fc6b160f12" x="105.299999" y="99.6" style="fill: #4cc26c; fill-opacity: 0.732026; stroke: #4cc26c; stroke-opacity: 0.732026"/>
    </g>
    <g clip-path="url(#p2b1c7608ae)">
     <use href="#C0_0_fc6b160f12" x="24.9" y="135.3" style="fill: #297b8e; fill-opacity: 0.734608; stroke: #297b8e; stroke-opacity: 0.734608"/>
    </g>
    <g clip-path="url(#p2b1c7608ae)">
     <use href="#C0_0_fc6b160f12" x="111.6" y="123.6" style="fill: #20938c; fill-opacity: 0.735292; stroke: #20938c; stroke-opacity: 0.735292"/>
    </g>
    <g clip-path="url(#p2b1c7608ae)">
     <use href="#C0_0_fc6b160f12" x="151.5" y="90.6" style="fill: #7ad151; fill-opacity: 0.735423; stroke: #7ad151; stroke-opacity: 0.735423"/>
    </g>
    <g clip-path="url(#p2b1c7608ae)">
     <use href="#C0_0_fc6b160f12" x="164.999998" y="75.3" style="fill: #d2e21b; fill-opacity: 0.735662; stroke: #d2e21b; stroke-opacity: 0.735662"/>
    </g>
    <g clip-path="url(#p2b1c7608ae)">
     <use href="#C0_0_fc6b160f12" x="76.8" y="168" style="fill: #46307e; fill-opacity: 0.74082; stroke: #46307e; stroke-opacity: 0.74082"/>
    </g>
    <g clip-path="url(#p2b1c7608ae)">
     <use href="#C0_0_fc6b160f12" x="78.6" y="172.2" style="fill: #482878; fill-opacity: 0.745523; stroke: #482878; stroke-opacity: 0.745523"/>
    </g>
    <g clip-path="url(#p2b1c7608ae)">
     <use href="#C0_0_fc6b160f12" x="29.1" y="104.1" style="fill: #42be71; fill-opacity: 0.748763; stroke: #42be71; stroke-opacity: 0.748763"/>
    </g>
    <g clip-path="url(#p2b1c7608ae)">
     <use href="#C0_0_fc6b160f12" x="103.8" y="126.6" style="fill: #20938c; fill-opacity: 0.758055; stroke: #20938c; stroke-opacity: 0.758055"/>
    </g>
    <g clip-path="url(#p2b1c7608ae)">
     <use href="#C0_0_fc6b160f12" x="47.1" y="105.9" style="fill: #42be71; fill-opacity: 0.762821; stroke: #42be71; stroke-opacity: 0.762821"/>
    </g>
    <g clip-path="url(#p2b1c7608ae)">
     <use href="#C0_0_fc6b160f12" x="164.1" y="139.8" style="fill: #297b8e; fill-opacity: 0.76822; stroke: #297b8e; stroke-opacity: 0.76822"/>
    </g>
    <g clip-path="url(#p2b1c7608ae)">
     <use href="#C0_0_fc6b160f12" x="144.9" y="92.4" style="fill: #86d549; fill-opacity: 0.768547; stroke: #86d549; stroke-opacity: 0.768547"/>
    </g>
    <g clip-path="url(#p2b1c7608ae)">
     <use href="#C0_0_fc6b160f12" x="141.3" y="89.4" style="fill: #9bd93c; fill-opacity: 0.773017; stroke: #9bd93c; stroke-opacity: 0.773017"/>
    </g>
    <g clip-path="url(#p2b1c7608ae)">
     <use href="#C0_0_fc6b160f12" x="162" y="131.4" style="fill: #218f8d; fill-opacity: 0.776451; stroke: #218f8d; stroke-opacity: 0.776451"/>
    </g>
    <g clip-path="url(#p2b1c7608ae)">
     <use href="#C0_0_fc6b160f12" x="99.9" y="150.9" style="fill: #306a8e; fill-opacity: 0.788892; stroke: #306a8e; stroke-opacity: 0.788892"/>
    </g>
    <g clip-path="url(#p2b1c7608ae)">
     <use href="#C0_0_fc6b160f12" x="33.3" y="90.9" style="fill: #a0da39; fill-opacity: 0.794564; stroke: #a0da39; stroke-opacity: 0.794564"/>
    </g>
    <g clip-path="url(#p2b1c7608ae)">
     <use href="#C0_0_fc6b160f12" x="102" y="114" style="fill: #3aba76; fill-opacity: 0.807429; stroke: #3aba76; stroke-opacity: 0.807429"/>
    </g>
    <g clip-path="url(#p2b1c7608ae)">
     <use href="#C0_0_fc6b160f12" x="77.7" y="110.7" style="fill: #4cc26c; fill-opacity: 0.819; stroke: #4cc26c; stroke-opacity: 0.819"/>
    </g>
    <g clip-path="url(#p2b1c7608ae)">
     <use href="#C0_0_fc6b160f12" x="117.6" y="183" style="fill: #482878; fill-opacity: 0.822589; stroke: #482878; stroke-opacity: 0.822589"/>
    </g>
    <g clip-path="url(#p2b1c7608ae)">
     <use href="#C0_0_fc6b160f12" x="39.3" y="87" style="fill: #d2e21b; fill-opacity: 0.830595; stroke: #d2e21b; stroke-opacity: 0.830595"/>
    </g>
    <g clip-path="url(#p2b1c7608ae)">
     <use href="#C0_0_fc6b160f12" x="110.4" y="190.2" style="fill: #481a6c; fill-opacity: 0.839688; stroke: #481a6c; stroke-opacity: 0.839688"/>
    </g>
    <g clip-path="url(#p2b1c7608ae)">
     <use href="#C0_0_fc6b160f12" x="60.3" y="103.5" style="fill: #86d549; fill-opacity: 0.856966; stroke: #86d549; stroke-opacity: 0.856966"/>
    </g>
    <g clip-path="url(#p2b1c7608ae)">
     <use href="#C0_0_fc6b160f12" x="155.1" y="123.3" style="fill: #3aba76; fill-opacity: 0.879825; stroke: #3aba76; stroke-opacity: 0.879825"/>
    </g>
    <g clip-path="url(#p2b1c7608ae)">
     <use href="#C0_0_fc6b160f12" x="60" y="90.9" style="fill: #dfe318; fill-opacity: 0.881871; stroke: #dfe318; stroke-opacity: 0.881871"/>
    </g>
    <g clip-path="url(#p2b1c7608ae)">
     <use href="#C0_0_fc6b160f12" x="111" y="128.4" style="fill: #2eb37c; fill-opacity: 0.89123; stroke: #2eb37c; stroke-opacity: 0.89123"/>
    </g>
    <g clip-path="url(#p2b1c7608ae)">
     <use href="#C0_0_fc6b160f12" x="98.4" y="108.9" style="fill: #86d549; fill-opacity: 0.899981; stroke: #86d549; stroke-opacity: 0.899981"/>
    </g>
    <g clip-path="url(#p2b1c7608ae)">
     <use href="#C0_0_fc6b160f12" x="141.6" y="151.8" style="fill: #218f8d; fill-opacity: 0.930747; stroke: #218f8d; stroke-opacity: 0.930747"/>
    </g>
    <g clip-path="url(#p2b1c7608ae)">
     <use href="#C0_0_fc6b160f12" x="113.1" y="154.8" style="fill: #218f8d; fill-opacity: 0.953438; stroke: #218f8d; stroke-opacity: 0.953438"/>
    </g>
    <g clip-path="url(#p2b1c7608ae)">
     <use href="#C0_0_fc6b160f12" x="125.1" y="130.5" style="fill: #4cc26c; fill-opacity: 0.974143; stroke: #4cc26c; stroke-opacity: 0.974143"/>
    </g>
    <g clip-path="url(#p2b1c7608ae)">
     <use href="#C0_0_fc6b160f12" x="142.5" y="133.8" style="fill: #4cc26c; stroke: #4cc26c"/>
    </g>
   </g>
  </g>
  <g id="patch_6">
   <path d="M 490.56 236.76 
L 726.72 236.76 
L 726.72 0.6 
L 490.56 0.6 
z
" style="fill: #ffffff"/>
  </g>
  <g id="pane3d_4">
   <g id="patch_7">
    <path d="M 508.391709 178.530512 
L 586.379453 113.159638 
L 585.295349 18.883152 
L 503.575489 78.518584 
" style="fill: #f2f2f2; opacity: 0.5; stroke: #f2f2f2; stroke-linejoin: miter"/>
   </g>
  </g>
  <g id="pane3d_5">
   <g id="patch_8">
    <path d="M 586.379453 113.159638 
L 711.521957 149.533624 
L 715.987852 52.009892 
L 585.295349 18.883152 
" style="fill: #e6e6e6; opacity: 0.5; stroke: #e6e6e6; stroke-linejoin: miter"/>
   </g>
  </g>
  <g id="pane3d_6">
   <g id="patch_9">
    <path d="M 508.391709 178.530512 
L 641.048875 221.856343 
L 711.521957 149.533624 
L 586.379453 113.159638 
" style="fill: #ececec; opacity: 0.5; stroke: #ececec; stroke-linejoin: miter"/>
   </g>
  </g>
  <g id="grid3d_4">
   <g id="Line3DCollection_4">
    <path d="M 515.200636 180.754308 
L 592.82963 115.03445 
L 592.018113 20.587177 
" style="fill: none; stroke: #b0b0b0; stroke-width: 0.8"/>
    <path d="M 538.172991 188.257079 
L 614.570016 121.353522 
L 614.688025 26.333339 
" style="fill: none; stroke: #b0b0b0; stroke-width: 0.8"/>
    <path d="M 561.57907 195.901504 
L 636.68666 127.781957 
L 637.767341 32.183272 
" style="fill: none; stroke: #b0b0b0; stroke-width: 0.8"/>
    <path d="M 585.431273 203.691634 
L 659.189416 134.32262 
L 661.267253 38.139815 
" style="fill: none; stroke: #b0b0b0; stroke-width: 0.8"/>
    <path d="M 609.742478 211.631674 
L 682.088484 140.978475 
L 685.199364 44.205908 
" style="fill: none; stroke: #b0b0b0; stroke-width: 0.8"/>
    <path d="M 634.526064 219.725992 
L 705.394425 147.752592 
L 709.575707 50.3846 
" style="fill: none; stroke: #b0b0b0; stroke-width: 0.8"/>
   </g>
  </g>
  <g id="grid3d_5">
   <g id="Line3DCollection_5">
    <path d="M 508.894439 74.637056 
L 513.449755 174.290758 
L 645.63845 217.146309 
" style="fill: none; stroke: #b0b0b0; stroke-width: 0.8"/>
    <path d="M 524.426786 63.302257 
L 528.234507 161.897885 
L 659.038769 203.394286 
" style="fill: none; stroke: #b0b0b0; stroke-width: 0.8"/>
    <path d="M 539.461445 52.330648 
L 542.565847 149.885072 
L 672.006715 190.085983 
" style="fill: none; stroke: #b0b0b0; stroke-width: 0.8"/>
    <path d="M 554.021957 41.705049 
L 556.464316 138.235099 
L 684.562883 177.200266 
" style="fill: none; stroke: #b0b0b0; stroke-width: 0.8"/>
    <path d="M 568.130405 31.409346 
L 569.949236 126.931773 
L 696.72658 164.717321 
" style="fill: none; stroke: #b0b0b0; stroke-width: 0.8"/>
    <path d="M 581.80752 21.428411 
L 583.038792 115.959847 
L 708.515923 152.618554 
" style="fill: none; stroke: #b0b0b0; stroke-width: 0.8"/>
   </g>
  </g>
  <g id="grid3d_6">
   <g id="Line3DCollection_6">
    <path d="M 711.749233 144.570492 
L 586.324171 108.352142 
L 508.146996 173.448892 
" style="fill: none; stroke: #b0b0b0; stroke-width: 0.8"/>
    <path d="M 712.514362 127.862029 
L 586.138149 92.175223 
L 507.322857 156.335126 
" style="fill: none; stroke: #b0b0b0; stroke-width: 0.8"/>
    <path d="M 713.2913 110.895699 
L 585.949394 75.760618 
L 506.485513 138.947122 
" style="fill: none; stroke: #b0b0b0; stroke-width: 0.8"/>
    <path d="M 714.080321 93.665485 
L 585.757846 59.103048 
L 505.634642 121.278235 
" style="fill: none; stroke: #b0b0b0; stroke-width: 0.8"/>
    <path d="M 714.881711 76.165183 
L 585.56344 42.197079 
L 504.769914 103.321603 
" style="fill: none; stroke: #b0b0b0; stroke-width: 0.8"/>
    <path d="M 715.695762 58.388392 
L 585.366115 25.037113 
L 503.890988 85.070139 
" style="fill: none; stroke: #b0b0b0; stroke-width: 0.8"/>
   </g>
  </g>
  <g id="axis3d_4">
   <g id="line2d_21">
    <path d="M 508.391709 178.530512 
L 641.048875 221.856343 
" style="fill: none; stroke: #000000; stroke-width: 0.8; stroke-linecap: square"/>
   </g>
   <g id="xtick_18">
    <g id="line2d_22">
     <path d="M 515.876598 180.182046 
L 513.845814 181.901286 
" style="fill: none; stroke: #000000; stroke-width: 0.8; stroke-linecap: square"/>
    </g>
    <g id="text_21">
     <text style="font-size: 10px; font-family: 'Liberation Sans'; text-anchor: middle" x="507.666674" y="204.061321" transform="translate(0.000 0.960) rotate(-0 507.666674 204.061321)" textLength="28.023" lengthAdjust="spacingAndGlyphs">0.005</text>
    </g>
   </g>
   <g id="xtick_19">
    <g id="line2d_23">
     <path d="M 538.83873 187.674068 
L 536.83863 189.425625 
" style="fill: none; stroke: #000000; stroke-width: 0.8; stroke-linecap: square"/>
    </g>
    <g id="text_22">
     <text style="font-size: 10px; font-family: 'Liberation Sans'; text-anchor: middle" x="530.6654" y="211.743338" transform="translate(0.000 0.960) rotate(-0 530.6654 211.743338)" textLength="28.282" lengthAdjust="spacingAndGlyphs">0.006</text>
    </g>
   </g>
   <g id="xtick_20">
    <g id="line2d_24">
     <path d="M 562.234079 195.307438 
L 560.26619 197.092234 
" style="fill: none; stroke: #000000; stroke-width: 0.8; stroke-linecap: square"/>
    </g>
    <g id="text_23">
     <text style="font-size: 10px; font-family: 'Liberation Sans'; text-anchor: middle" x="554.100201" y="219.571013" transform="translate(0.000 0.960) rotate(-0 554.100201 219.571013)" textLength="28.140" lengthAdjust="spacingAndGlyphs">0.007</text>
    </g>
   </g>
   <g id="xtick_21">
    <g id="line2d_25">
     <path d="M 586.07502 203.086195 
L 584.14094 204.905184 
" style="fill: none; stroke: #000000; stroke-width: 0.8; stroke-linecap: square"/>
    </g>
    <g id="text_24">
     <text style="font-size: 10px; font-family: 'Liberation Sans'; text-anchor: middle" x="577.983599" y="227.548528" transform="translate(0.000 0.960) rotate(-0 577.983599 227.548528)" textLength="28.230" lengthAdjust="spacingAndGlyphs">0.008</text>
    </g>
   </g>
   <g id="xtick_22">
    <g id="line2d_26">
     <path d="M 610.374407 211.014532 
L 608.475807 212.868706 
" style="fill: none; stroke: #000000; stroke-width: 0.8; stroke-linecap: square"/>
    </g>
    <g id="text_25">
     <text style="font-size: 10px; font-family: 'Liberation Sans'; text-anchor: middle" x="602.328599" y="235.680227" transform="translate(0.000 0.960) rotate(-0 602.328599 235.680227)" textLength="28.237" lengthAdjust="spacingAndGlyphs">0.009</text>
    </g>
   </g>
   <g id="xtick_23">
    <g id="line2d_27">
     <path d="M 635.145591 219.096806 
L 633.284224 220.987196 
" style="fill: none; stroke: #000000; stroke-width: 0.8; stroke-linecap: square"/>
    </g>
    <g id="text_26">
     <text style="font-size: 10px; font-family: 'Liberation Sans'; text-anchor: middle" x="627.148713" y="243.970623" transform="translate(0.000 0.960) rotate(-0 627.148713 243.970623)" textLength="28.172" lengthAdjust="spacingAndGlyphs">0.010</text>
    </g>
   </g>
   <g id="text_27">
    <text style="font-size: 10px; font-family: 'Liberation Sans'; text-anchor: middle" x="556.663039" y="237.690924" transform="translate(0.000 0.960) rotate(-0 556.663039 237.690924)" textLength="11.623" lengthAdjust="spacingAndGlyphs">x2</text>
   </g>
  </g>
  <g id="axis3d_5">
   <g id="line2d_28">
    <path d="M 711.521957 149.533624 
L 641.048875 221.856343 
" style="fill: none; stroke: #000000; stroke-width: 0.8; stroke-linecap: square"/>
   </g>
   <g id="xtick_24">
    <g id="line2d_29">
     <path d="M 644.524472 216.785158 
L 647.869288 217.869547 
" style="fill: none; stroke: #000000; stroke-width: 0.8; stroke-linecap: square"/>
    </g>
    <g id="text_28">
     <text style="font-size: 10px; font-family: 'Liberation Sans'; text-anchor: middle" x="658.524392" y="238.17397" transform="translate(0.000 0.960) rotate(-0 658.524392 238.17397)" textLength="21.805" lengthAdjust="spacingAndGlyphs">0.20</text>
    </g>
   </g>
   <g id="xtick_25">
    <g id="line2d_30">
     <path d="M 657.937374 203.044879 
L 661.244362 204.093989 
" style="fill: none; stroke: #000000; stroke-width: 0.8; stroke-linecap: square"/>
    </g>
    <g id="text_29">
     <text style="font-size: 10px; font-family: 'Liberation Sans'; text-anchor: middle" x="671.72217" y="224.192466" transform="translate(0.000 0.960) rotate(-0 671.72217 224.192466)" textLength="21.614" lengthAdjust="spacingAndGlyphs">0.22</text>
    </g>
   </g>
   <g id="xtick_26">
    <g id="line2d_31">
     <path d="M 670.917677 189.747757 
L 674.187518 190.763283 
" style="fill: none; stroke: #000000; stroke-width: 0.8; stroke-linecap: square"/>
    </g>
    <g id="text_30">
     <text style="font-size: 10px; font-family: 'Liberation Sans'; text-anchor: middle" x="684.493833" y="210.66238" transform="translate(0.000 0.960) rotate(-0 684.493833 210.66238)" textLength="21.850" lengthAdjust="spacingAndGlyphs">0.24</text>
    </g>
   </g>
   <g id="xtick_27">
    <g id="line2d_32">
     <path d="M 683.485979 176.872692 
L 686.719345 177.856221 
" style="fill: none; stroke: #000000; stroke-width: 0.8; stroke-linecap: square"/>
    </g>
    <g id="text_31">
     <text style="font-size: 10px; font-family: 'Liberation Sans'; text-anchor: middle" x="696.85969" y="197.562199" transform="translate(0.000 0.960) rotate(-0 696.85969 197.562199)" textLength="21.915" lengthAdjust="spacingAndGlyphs">0.26</text>
    </g>
   </g>
   <g id="xtick_28">
    <g id="line2d_33">
     <path d="M 695.661589 164.399904 
L 698.859145 165.352924 
" style="fill: none; stroke: #000000; stroke-width: 0.8; stroke-linecap: square"/>
    </g>
    <g id="text_32">
     <text style="font-size: 10px; font-family: 'Liberation Sans'; text-anchor: middle" x="708.83878" y="184.871753" transform="translate(0.000 0.960) rotate(-0 708.83878 184.871753)" textLength="21.863" lengthAdjust="spacingAndGlyphs">0.28</text>
    </g>
   </g>
   <g id="xtick_29">
    <g id="line2d_34">
     <path d="M 707.462627 152.310829 
L 710.62503 153.234739 
" style="fill: none; stroke: #000000; stroke-width: 0.8; stroke-linecap: square"/>
    </g>
    <g id="text_33">
     <text style="font-size: 10px; font-family: 'Liberation Sans'; text-anchor: middle" x="720.448968" y="172.572115" transform="translate(0.000 0.960) rotate(-0 720.448968 172.572115)" textLength="21.805" lengthAdjust="spacingAndGlyphs">0.30</text>
    </g>
   </g>
   <g id="text_34">
    <text style="font-size: 10px; font-family: 'Liberation Sans'; text-anchor: middle" x="704.837444" y="214.851139" transform="translate(0.000 0.960) rotate(-0 704.837444 214.851139)" textLength="11.718" lengthAdjust="spacingAndGlyphs">x3</text>
   </g>
  </g>
  <g id="axis3d_6">
   <g id="line2d_35">
    <path d="M 711.521957 149.533624 
L 715.987852 52.009892 
" style="fill: none; stroke: #000000; stroke-width: 0.8; stroke-linecap: square"/>
   </g>
   <g id="xtick_30">
    <g id="line2d_36">
     <path d="M 710.696459 144.266488 
L 713.857291 145.179225 
" style="fill: none; stroke: #000000; stroke-width: 0.8; stroke-linecap: square"/>
    </g>
    <g id="text_35">
     <text style="font-size: 10px; font-family: 'Liberation Sans'; text-anchor: middle" x="730.031614" y="149.575805" transform="translate(0.000 0.960) rotate(-0 730.031614 149.575805)" textLength="5.851" lengthAdjust="spacingAndGlyphs">0</text>
    </g>
   </g>
   <g id="xtick_31">
    <g id="line2d_37">
     <path d="M 711.453224 127.562379 
L 714.639188 128.462049 
" style="fill: none; stroke: #000000; stroke-width: 0.8; stroke-linecap: square"/>
    </g>
    <g id="text_36">
     <text style="font-size: 10px; font-family: 'Liberation Sans'; text-anchor: middle" x="730.933654" y="132.904541" transform="translate(0.000 0.960) rotate(-0 730.933654 132.904541)" textLength="12.263" lengthAdjust="spacingAndGlyphs">20</text>
    </g>
   </g>
   <g id="xtick_32">
    <g id="line2d_38">
     <path d="M 712.221663 110.600574 
L 715.433162 111.486663 
" style="fill: none; stroke: #000000; stroke-width: 0.8; stroke-linecap: square"/>
    </g>
    <g id="text_37">
     <text style="font-size: 10px; font-family: 'Liberation Sans'; text-anchor: middle" x="731.849569" y="115.976867" transform="translate(0.000 0.960) rotate(-0 731.849569 115.976867)" textLength="12.177" lengthAdjust="spacingAndGlyphs">40</text>
    </g>
   </g>
   <g id="xtick_33">
    <g id="line2d_39">
     <path d="M 713.00205 93.375063 
L 716.239496 94.247038 
" style="fill: none; stroke: #000000; stroke-width: 0.8; stroke-linecap: square"/>
    </g>
    <g id="text_38">
     <text style="font-size: 10px; font-family: 'Liberation Sans'; text-anchor: middle" x="732.779679" y="98.786823" transform="translate(0.000 0.960) rotate(-0 732.779679 98.786823)" textLength="12.317" lengthAdjust="spacingAndGlyphs">60</text>
    </g>
   </g>
   <g id="xtick_34">
    <g id="line2d_40">
     <path d="M 713.794664 75.879648 
L 717.058479 76.736956 
" style="fill: none; stroke: #000000; stroke-width: 0.8; stroke-linecap: square"/>
    </g>
    <g id="text_39">
     <text style="font-size: 10px; font-family: 'Liberation Sans'; text-anchor: middle" x="733.724319" y="81.328261" transform="translate(0.000 0.960) rotate(-0 733.724319 81.328261)" textLength="12.311" lengthAdjust="spacingAndGlyphs">80</text>
    </g>
   </g>
   <g id="xtick_35">
    <g id="line2d_41">
     <path d="M 714.599795 58.107935 
L 717.890412 58.950002 
" style="fill: none; stroke: #000000; stroke-width: 0.8; stroke-linecap: square"/>
    </g>
    <g id="text_40">
     <text style="font-size: 10px; font-family: 'Liberation Sans'; text-anchor: middle" x="734.68383" y="63.59484" transform="translate(0.000 0.960) rotate(-0 734.68383 63.59484)" textLength="18.616" lengthAdjust="spacingAndGlyphs">100</text>
    </g>
   </g>
   <g id="text_41">
    <text style="font-size: 10px; font-family: 'Liberation Sans'; text-anchor: middle" x="756.804319" y="96.561481" transform="translate(0.959 0.044) rotate(-87.378092 756.804319 96.561481)" textLength="63.531" lengthAdjust="spacingAndGlyphs">Removal (%)</text>
   </g>
  </g>
  <g id="axes_2">
   <g id="Path3DCollection_2">
    <defs>
     <path id="C1_0_fc6b160f12" d="M 0 2.291288 
C 0.607657 2.291288 1.190507 2.049863 1.620185 1.620185 
C 2.049863 1.190507 2.291288 0.607657 2.291288 -0 
C 2.291288 -0.607657 2.049863 -1.190507 1.620185 -1.620185 
C 1.190507 -2.049863 0.607657 -2.291288 0 -2.291288 
C -0.607657 -2.291288 -1.190507 -2.049863 -1.620185 -1.620185 
C -2.049863 -1.190507 -2.291288 -0.607657 -2.291288 0 
C -2.291288 0.607657 -2.049863 1.190507 -1.620185 1.620185 
C -1.190507 2.049863 -0.607657 2.291288 0 2.291288 
z
"/>
    </defs>
    <g clip-path="url(#p4ad430866b)">
     <use href="#C1_0_fc6b160f12" x="589.2" y="108.6" style="fill: #424086; fill-opacity: 0.3; stroke: #424086; stroke-opacity: 0.3"/>
    </g>
    <g clip-path="url(#p4ad430866b)">
     <use href="#C1_0_fc6b160f12" x="587.7" y="89.1" style="fill: #2c718e; fill-opacity: 0.302354; stroke: #2c718e; stroke-opacity: 0.302354"/>
    </g>
    <g clip-path="url(#p4ad430866b)">
     <use href="#C1_0_fc6b160f12" x="583.2" y="114.9" style="fill: #46307e; fill-opacity: 0.306171; stroke: #46307e; stroke-opacity: 0.306171"/>
    </g>
    <g clip-path="url(#p4ad430866b)">
     <use href="#C1_0_fc6b160f12" x="591.6" y="74.4" style="fill: #20938c; fill-opacity: 0.308082; stroke: #20938c; stroke-opacity: 0.308082"/>
    </g>
    <g clip-path="url(#p4ad430866b)">
     <use href="#C1_0_fc6b160f12" x="607.8" y="73.5" style="fill: #1e9b8a; fill-opacity: 0.327772; stroke: #1e9b8a; stroke-opacity: 0.327772"/>
    </g>
    <g clip-path="url(#p4ad430866b)">
     <use href="#C1_0_fc6b160f12" x="613.2" y="74.1" style="fill: #1e9b8a; fill-opacity: 0.332687; stroke: #1e9b8a; stroke-opacity: 0.332687"/>
    </g>
    <g clip-path="url(#p4ad430866b)">
     <use href="#C1_0_fc6b160f12" x="594.9" y="80.4" style="fill: #20938c; fill-opacity: 0.356995; stroke: #20938c; stroke-opacity: 0.356995"/>
    </g>
    <g clip-path="url(#p4ad430866b)">
     <use href="#C1_0_fc6b160f12" x="658.2" y="117" style="fill: #424086; fill-opacity: 0.365178; stroke: #424086; stroke-opacity: 0.365178"/>
    </g>
    <g clip-path="url(#p4ad430866b)">
     <use href="#C1_0_fc6b160f12" x="642.9" y="75.3" style="fill: #1fa287; fill-opacity: 0.369874; stroke: #1fa287; stroke-opacity: 0.369874"/>
    </g>
    <g clip-path="url(#p4ad430866b)">
     <use href="#C1_0_fc6b160f12" x="638.4" y="115.5" style="fill: #404688; fill-opacity: 0.370818; stroke: #404688; stroke-opacity: 0.370818"/>
    </g>
    <g clip-path="url(#p4ad430866b)">
     <use href="#C1_0_fc6b160f12" x="619.2" y="92.4" style="fill: #26828e; fill-opacity: 0.391056; stroke: #26828e; stroke-opacity: 0.391056"/>
    </g>
    <g clip-path="url(#p4ad430866b)">
     <use href="#C1_0_fc6b160f12" x="567.6" y="75.3" style="fill: #25ac82; fill-opacity: 0.40676; stroke: #25ac82; stroke-opacity: 0.40676"/>
    </g>
    <g clip-path="url(#p4ad430866b)">
     <use href="#C1_0_fc6b160f12" x="577.2" y="58.5" style="fill: #6ece58; fill-opacity: 0.416345; stroke: #6ece58; stroke-opacity: 0.416345"/>
    </g>
    <g clip-path="url(#p4ad430866b)">
     <use href="#C1_0_fc6b160f12" x="589.2" y="93" style="fill: #238a8d; fill-opacity: 0.423073; stroke: #238a8d; stroke-opacity: 0.423073"/>
    </g>
    <g clip-path="url(#p4ad430866b)">
     <use href="#C1_0_fc6b160f12" x="604.2" y="108" style="fill: #306a8e; fill-opacity: 0.426192; stroke: #306a8e; stroke-opacity: 0.426192"/>
    </g>
    <g clip-path="url(#p4ad430866b)">
     <use href="#C1_0_fc6b160f12" x="588.9" y="131.4" style="fill: #46307e; fill-opacity: 0.433242; stroke: #46307e; stroke-opacity: 0.433242"/>
    </g>
    <g clip-path="url(#p4ad430866b)">
     <use href="#C1_0_fc6b160f12" x="592.2" y="65.1" style="fill: #5cc863; fill-opacity: 0.443696; stroke: #5cc863; stroke-opacity: 0.443696"/>
    </g>
    <g clip-path="url(#p4ad430866b)">
     <use href="#C1_0_fc6b160f12" x="591" y="96" style="fill: #238a8d; fill-opacity: 0.447375; stroke: #238a8d; stroke-opacity: 0.447375"/>
    </g>
    <g clip-path="url(#p4ad430866b)">
     <use href="#C1_0_fc6b160f12" x="659.7" y="127.8" style="fill: #424086; fill-opacity: 0.448977; stroke: #424086; stroke-opacity: 0.448977"/>
    </g>
    <g clip-path="url(#p4ad430866b)">
     <use href="#C1_0_fc6b160f12" x="590.4" y="99.6" style="fill: #26828e; fill-opacity: 0.449109; stroke: #26828e; stroke-opacity: 0.449109"/>
    </g>
    <g clip-path="url(#p4ad430866b)">
     <use href="#C1_0_fc6b160f12" x="639.3" y="66.6" style="fill: #5cc863; fill-opacity: 0.456387; stroke: #5cc863; stroke-opacity: 0.456387"/>
    </g>
    <g clip-path="url(#p4ad430866b)">
     <use href="#C1_0_fc6b160f12" x="639" y="126.6" style="fill: #404688; fill-opacity: 0.457206; stroke: #404688; stroke-opacity: 0.457206"/>
    </g>
    <g clip-path="url(#p4ad430866b)">
     <use href="#C1_0_fc6b160f12" x="637.8" y="104.1" style="fill: #297b8e; fill-opacity: 0.458048; stroke: #297b8e; stroke-opacity: 0.458048"/>
    </g>
    <g clip-path="url(#p4ad430866b)">
     <use href="#C1_0_fc6b160f12" x="585.6" y="101.1" style="fill: #26828e; fill-opacity: 0.461203; stroke: #26828e; stroke-opacity: 0.461203"/>
    </g>
    <g clip-path="url(#p4ad430866b)">
     <use href="#C1_0_fc6b160f12" x="679.2" y="106.8" style="fill: #297b8e; fill-opacity: 0.479716; stroke: #297b8e; stroke-opacity: 0.479716"/>
    </g>
    <g clip-path="url(#p4ad430866b)">
     <use href="#C1_0_fc6b160f12" x="606" y="107.1" style="fill: #297b8e; fill-opacity: 0.482124; stroke: #297b8e; stroke-opacity: 0.482124"/>
    </g>
    <g clip-path="url(#p4ad430866b)">
     <use href="#C1_0_fc6b160f12" x="653.7" y="134.4" style="fill: #424086; fill-opacity: 0.500188; stroke: #424086; stroke-opacity: 0.500188"/>
    </g>
    <g clip-path="url(#p4ad430866b)">
     <use href="#C1_0_fc6b160f12" x="585.9" y="111.9" style="fill: #2a768e; fill-opacity: 0.502363; stroke: #2a768e; stroke-opacity: 0.502363"/>
    </g>
    <g clip-path="url(#p4ad430866b)">
     <use href="#C1_0_fc6b160f12" x="604.2" y="87" style="fill: #25ac82; fill-opacity: 0.503674; stroke: #25ac82; stroke-opacity: 0.503674"/>
    </g>
    <g clip-path="url(#p4ad430866b)">
     <use href="#C1_0_fc6b160f12" x="621.9" y="69" style="fill: #6ece58; fill-opacity: 0.505615; stroke: #6ece58; stroke-opacity: 0.505615"/>
    </g>
    <g clip-path="url(#p4ad430866b)">
     <use href="#C1_0_fc6b160f12" x="656.4" y="93.3" style="fill: #1fa287; fill-opacity: 0.518019; stroke: #1fa287; stroke-opacity: 0.518019"/>
    </g>
    <g clip-path="url(#p4ad430866b)">
     <use href="#C1_0_fc6b160f12" x="652.8" y="102.6" style="fill: #218f8d; fill-opacity: 0.519349; stroke: #218f8d; stroke-opacity: 0.519349"/>
    </g>
    <g clip-path="url(#p4ad430866b)">
     <use href="#C1_0_fc6b160f12" x="679.2" y="138" style="fill: #424086; fill-opacity: 0.528122; stroke: #424086; stroke-opacity: 0.528122"/>
    </g>
    <g clip-path="url(#p4ad430866b)">
     <use href="#C1_0_fc6b160f12" x="586.2" y="81" style="fill: #42be71; fill-opacity: 0.529806; stroke: #42be71; stroke-opacity: 0.529806"/>
    </g>
    <g clip-path="url(#p4ad430866b)">
     <use href="#C1_0_fc6b160f12" x="592.2" y="106.2" style="fill: #238a8d; fill-opacity: 0.530004; stroke: #238a8d; stroke-opacity: 0.530004"/>
    </g>
    <g clip-path="url(#p4ad430866b)">
     <use href="#C1_0_fc6b160f12" x="572.7" y="55.5" style="fill: #dfe318; fill-opacity: 0.556997; stroke: #dfe318; stroke-opacity: 0.556997"/>
    </g>
    <g clip-path="url(#p4ad430866b)">
     <use href="#C1_0_fc6b160f12" x="605.7" y="59.1" style="fill: #cae11f; fill-opacity: 0.558313; stroke: #cae11f; stroke-opacity: 0.558313"/>
    </g>
    <g clip-path="url(#p4ad430866b)">
     <use href="#C1_0_fc6b160f12" x="667.2" y="105.6" style="fill: #20938c; fill-opacity: 0.56243; stroke: #20938c; stroke-opacity: 0.56243"/>
    </g>
    <g clip-path="url(#p4ad430866b)">
     <use href="#C1_0_fc6b160f12" x="595.8" y="111" style="fill: #238a8d; fill-opacity: 0.568889; stroke: #238a8d; stroke-opacity: 0.568889"/>
    </g>
    <g clip-path="url(#p4ad430866b)">
     <use href="#C1_0_fc6b160f12" x="573.9" y="65.4" style="fill: #b0dd2f; fill-opacity: 0.573013; stroke: #b0dd2f; stroke-opacity: 0.573013"/>
    </g>
    <g clip-path="url(#p4ad430866b)">
     <use href="#C1_0_fc6b160f12" x="609.3" y="65.4" style="fill: #b0dd2f; fill-opacity: 0.573013; stroke: #b0dd2f; stroke-opacity: 0.573013"/>
    </g>
    <g clip-path="url(#p4ad430866b)">
     <use href="#C1_0_fc6b160f12" x="556.8" y="80.4" style="fill: #5cc863; fill-opacity: 0.573136; stroke: #5cc863; stroke-opacity: 0.573136"/>
    </g>
    <g clip-path="url(#p4ad430866b)">
     <use href="#C1_0_fc6b160f12" x="667.8" y="107.4" style="fill: #20938c; fill-opacity: 0.577104; stroke: #20938c; stroke-opacity: 0.577104"/>
    </g>
    <g clip-path="url(#p4ad430866b)">
     <use href="#C1_0_fc6b160f12" x="621.300001" y="147" style="fill: #443a83; fill-opacity: 0.580045; stroke: #443a83; stroke-opacity: 0.580045"/>
    </g>
    <g clip-path="url(#p4ad430866b)">
     <use href="#C1_0_fc6b160f12" x="641.700003" y="147" style="fill: #443a83; fill-opacity: 0.580045; stroke: #443a83; stroke-opacity: 0.580045"/>
    </g>
    <g clip-path="url(#p4ad430866b)">
     <use href="#C1_0_fc6b160f12" x="579.3" y="62.4" style="fill: #cae11f; fill-opacity: 0.587033; stroke: #cae11f; stroke-opacity: 0.587033"/>
    </g>
    <g clip-path="url(#p4ad430866b)">
     <use href="#C1_0_fc6b160f12" x="658.8" y="108.9" style="fill: #20938c; fill-opacity: 0.589332; stroke: #20938c; stroke-opacity: 0.589332"/>
    </g>
    <g clip-path="url(#p4ad430866b)">
     <use href="#C1_0_fc6b160f12" x="665.7" y="148.5" style="fill: #443a83; fill-opacity: 0.591649; stroke: #443a83; stroke-opacity: 0.591649"/>
    </g>
    <g clip-path="url(#p4ad430866b)">
     <use href="#C1_0_fc6b160f12" x="573.6" y="83.1" style="fill: #5cc863; fill-opacity: 0.595978; stroke: #5cc863; stroke-opacity: 0.595978"/>
    </g>
    <g clip-path="url(#p4ad430866b)">
     <use href="#C1_0_fc6b160f12" x="654.9" y="153.6" style="fill: #46307e; fill-opacity: 0.604209; stroke: #46307e; stroke-opacity: 0.604209"/>
    </g>
    <g clip-path="url(#p4ad430866b)">
     <use href="#C1_0_fc6b160f12" x="619.8" y="157.5" style="fill: #482878; fill-opacity: 0.607457; stroke: #482878; stroke-opacity: 0.607457"/>
    </g>
    <g clip-path="url(#p4ad430866b)">
     <use href="#C1_0_fc6b160f12" x="616.8" y="157.5" style="fill: #482878; fill-opacity: 0.607457; stroke: #482878; stroke-opacity: 0.607457"/>
    </g>
    <g clip-path="url(#p4ad430866b)">
     <use href="#C1_0_fc6b160f12" x="622.2" y="76.5" style="fill: #86d549; fill-opacity: 0.608819; stroke: #86d549; stroke-opacity: 0.608819"/>
    </g>
    <g clip-path="url(#p4ad430866b)">
     <use href="#C1_0_fc6b160f12" x="585.599999" y="131.4" style="fill: #306a8e; fill-opacity: 0.611955; stroke: #306a8e; stroke-opacity: 0.611955"/>
    </g>
    <g clip-path="url(#p4ad430866b)">
     <use href="#C1_0_fc6b160f12" x="548.4" y="72.9" style="fill: #a0da39; fill-opacity: 0.617768; stroke: #a0da39; stroke-opacity: 0.617768"/>
    </g>
    <g clip-path="url(#p4ad430866b)">
     <use href="#C1_0_fc6b160f12" x="653.4" y="86.4" style="fill: #5cc863; fill-opacity: 0.623897; stroke: #5cc863; stroke-opacity: 0.623897"/>
    </g>
    <g clip-path="url(#p4ad430866b)">
     <use href="#C1_0_fc6b160f12" x="696.3" y="66" style="fill: #d2e21b; fill-opacity: 0.62849; stroke: #d2e21b; stroke-opacity: 0.62849"/>
    </g>
    <g clip-path="url(#p4ad430866b)">
     <use href="#C1_0_fc6b160f12" x="677.100001" y="119.4" style="fill: #238a8d; fill-opacity: 0.636936; stroke: #238a8d; stroke-opacity: 0.636936"/>
    </g>
    <g clip-path="url(#p4ad430866b)">
     <use href="#C1_0_fc6b160f12" x="563.4" y="90.6" style="fill: #5cc863; fill-opacity: 0.659429; stroke: #5cc863; stroke-opacity: 0.659429"/>
    </g>
    <g clip-path="url(#p4ad430866b)">
     <use href="#C1_0_fc6b160f12" x="554.7" y="69.6" style="fill: #d2e21b; fill-opacity: 0.659874; stroke: #d2e21b; stroke-opacity: 0.659874"/>
    </g>
    <g clip-path="url(#p4ad430866b)">
     <use href="#C1_0_fc6b160f12" x="532.2" y="161.4" style="fill: #46307e; fill-opacity: 0.664279; stroke: #46307e; stroke-opacity: 0.664279"/>
    </g>
    <g clip-path="url(#p4ad430866b)">
     <use href="#C1_0_fc6b160f12" x="598.199997" y="120.600001" style="fill: #218f8d; fill-opacity: 0.665625; stroke: #218f8d; stroke-opacity: 0.665625"/>
    </g>
    <g clip-path="url(#p4ad430866b)">
     <use href="#C1_0_fc6b160f12" x="646.8" y="165.9" style="fill: #482878; fill-opacity: 0.671859; stroke: #482878; stroke-opacity: 0.671859"/>
    </g>
    <g clip-path="url(#p4ad430866b)">
     <use href="#C1_0_fc6b160f12" x="663.3" y="135.9" style="fill: #2a768e; fill-opacity: 0.694369; stroke: #2a768e; stroke-opacity: 0.694369"/>
    </g>
    <g clip-path="url(#p4ad430866b)">
     <use href="#C1_0_fc6b160f12" x="600.9" y="162" style="fill: #443a83; fill-opacity: 0.696084; stroke: #443a83; stroke-opacity: 0.696084"/>
    </g>
    <g clip-path="url(#p4ad430866b)">
     <use href="#C1_0_fc6b160f12" x="538.2" y="101.4" style="fill: #42be71; fill-opacity: 0.700986; stroke: #42be71; stroke-opacity: 0.700986"/>
    </g>
    <g clip-path="url(#p4ad430866b)">
     <use href="#C1_0_fc6b160f12" x="579.599998" y="101.4" style="fill: #42be71; fill-opacity: 0.700986; stroke: #42be71; stroke-opacity: 0.700986"/>
    </g>
    <g clip-path="url(#p4ad430866b)">
     <use href="#C1_0_fc6b160f12" x="548.7" y="166.5" style="fill: #46307e; fill-opacity: 0.703555; stroke: #46307e; stroke-opacity: 0.703555"/>
    </g>
    <g clip-path="url(#p4ad430866b)">
     <use href="#C1_0_fc6b160f12" x="630.3" y="87.9" style="fill: #86d549; fill-opacity: 0.706385; stroke: #86d549; stroke-opacity: 0.706385"/>
    </g>
    <g clip-path="url(#p4ad430866b)">
     <use href="#C1_0_fc6b160f12" x="552" y="126.6" style="fill: #218f8d; fill-opacity: 0.714383; stroke: #218f8d; stroke-opacity: 0.714383"/>
    </g>
    <g clip-path="url(#p4ad430866b)">
     <use href="#C1_0_fc6b160f12" x="669.6" y="76.8" style="fill: #d2e21b; fill-opacity: 0.722642; stroke: #d2e21b; stroke-opacity: 0.722642"/>
    </g>
    <g clip-path="url(#p4ad430866b)">
     <use href="#C1_0_fc6b160f12" x="674.4" y="83.1" style="fill: #b0dd2f; fill-opacity: 0.726024; stroke: #b0dd2f; stroke-opacity: 0.726024"/>
    </g>
    <g clip-path="url(#p4ad430866b)">
     <use href="#C1_0_fc6b160f12" x="566.7" y="146.4" style="fill: #306a8e; fill-opacity: 0.731034; stroke: #306a8e; stroke-opacity: 0.731034"/>
    </g>
    <g clip-path="url(#p4ad430866b)">
     <use href="#C1_0_fc6b160f12" x="618.3" y="142.5" style="fill: #2a768e; fill-opacity: 0.747171; stroke: #2a768e; stroke-opacity: 0.747171"/>
    </g>
    <g clip-path="url(#p4ad430866b)">
     <use href="#C1_0_fc6b160f12" x="598.8" y="98.4" style="fill: #6ece58; fill-opacity: 0.755574; stroke: #6ece58; stroke-opacity: 0.755574"/>
    </g>
    <g clip-path="url(#p4ad430866b)">
     <use href="#C1_0_fc6b160f12" x="608.7" y="144.6" style="fill: #2a768e; fill-opacity: 0.763971; stroke: #2a768e; stroke-opacity: 0.763971"/>
    </g>
    <g clip-path="url(#p4ad430866b)">
     <use href="#C1_0_fc6b160f12" x="647.7" y="155.1" style="fill: #33628d; fill-opacity: 0.771728; stroke: #33628d; stroke-opacity: 0.771728"/>
    </g>
    <g clip-path="url(#p4ad430866b)">
     <use href="#C1_0_fc6b160f12" x="636.6" y="147.9" style="fill: #2a768e; fill-opacity: 0.790372; stroke: #2a768e; stroke-opacity: 0.790372"/>
    </g>
    <g clip-path="url(#p4ad430866b)">
     <use href="#C1_0_fc6b160f12" x="616.8" y="191.4" style="fill: #470e61; fill-opacity: 0.803102; stroke: #470e61; stroke-opacity: 0.803102"/>
    </g>
    <g clip-path="url(#p4ad430866b)">
     <use href="#C1_0_fc6b160f12" x="637.8" y="186.3" style="fill: #482071; fill-opacity: 0.809882; stroke: #482071; stroke-opacity: 0.809882"/>
    </g>
    <g clip-path="url(#p4ad430866b)">
     <use href="#C1_0_fc6b160f12" x="654.9" y="138.6" style="fill: #218f8d; fill-opacity: 0.811901; stroke: #218f8d; stroke-opacity: 0.811901"/>
    </g>
    <g clip-path="url(#p4ad430866b)">
     <use href="#C1_0_fc6b160f12" x="566.4" y="96.9" style="fill: #9bd93c; fill-opacity: 0.814211; stroke: #9bd93c; stroke-opacity: 0.814211"/>
    </g>
    <g clip-path="url(#p4ad430866b)">
     <use href="#C1_0_fc6b160f12" x="646.8" y="185.1" style="fill: #482878; fill-opacity: 0.819063; stroke: #482878; stroke-opacity: 0.819063"/>
    </g>
    <g clip-path="url(#p4ad430866b)">
     <use href="#C1_0_fc6b160f12" x="647.7" y="141" style="fill: #218f8d; fill-opacity: 0.831404; stroke: #218f8d; stroke-opacity: 0.831404"/>
    </g>
    <g clip-path="url(#p4ad430866b)">
     <use href="#C1_0_fc6b160f12" x="573" y="99.9" style="fill: #9bd93c; fill-opacity: 0.840015; stroke: #9bd93c; stroke-opacity: 0.840015"/>
    </g>
    <g clip-path="url(#p4ad430866b)">
     <use href="#C1_0_fc6b160f12" x="640.2" y="176.1" style="fill: #404688; fill-opacity: 0.842449; stroke: #404688; stroke-opacity: 0.842449"/>
    </g>
    <g clip-path="url(#p4ad430866b)">
     <use href="#C1_0_fc6b160f12" x="599.7" y="142.5" style="fill: #218f8d; fill-opacity: 0.843594; stroke: #218f8d; stroke-opacity: 0.843594"/>
    </g>
    <g clip-path="url(#p4ad430866b)">
     <use href="#C1_0_fc6b160f12" x="599.4" y="173.1" style="fill: #3c4f8a; fill-opacity: 0.847258; stroke: #3c4f8a; stroke-opacity: 0.847258"/>
    </g>
    <g clip-path="url(#p4ad430866b)">
     <use href="#C1_0_fc6b160f12" x="560.7" y="91.5" style="fill: #d2e21b; fill-opacity: 0.850794; stroke: #d2e21b; stroke-opacity: 0.850794"/>
    </g>
    <g clip-path="url(#p4ad430866b)">
     <use href="#C1_0_fc6b160f12" x="603.3" y="174.9" style="fill: #3c4f8a; fill-opacity: 0.861331; stroke: #3c4f8a; stroke-opacity: 0.861331"/>
    </g>
    <g clip-path="url(#p4ad430866b)">
     <use href="#C1_0_fc6b160f12" x="543.9" y="95.1" style="fill: #d2e21b; fill-opacity: 0.882178; stroke: #d2e21b; stroke-opacity: 0.882178"/>
    </g>
    <g clip-path="url(#p4ad430866b)">
     <use href="#C1_0_fc6b160f12" x="629.7" y="169.5" style="fill: #33628d; fill-opacity: 0.885518; stroke: #33628d; stroke-opacity: 0.885518"/>
    </g>
    <g clip-path="url(#p4ad430866b)">
     <use href="#C1_0_fc6b160f12" x="611.7" y="138" style="fill: #1fa287; fill-opacity: 0.885915; stroke: #1fa287; stroke-opacity: 0.885915"/>
    </g>
    <g clip-path="url(#p4ad430866b)">
     <use href="#C1_0_fc6b160f12" x="645.3" y="126" style="fill: #3aba76; fill-opacity: 0.887041; stroke: #3aba76; stroke-opacity: 0.887041"/>
    </g>
    <g clip-path="url(#p4ad430866b)">
     <use href="#C1_0_fc6b160f12" x="630.3" y="110.1" style="fill: #86d549; fill-opacity: 0.896384; stroke: #86d549; stroke-opacity: 0.896384"/>
    </g>
    <g clip-path="url(#p4ad430866b)">
     <use href="#C1_0_fc6b160f12" x="628.8" y="146.1" style="fill: #22a785; fill-opacity: 0.972832; stroke: #22a785; stroke-opacity: 0.972832"/>
    </g>
    <g clip-path="url(#p4ad430866b)">
     <use href="#C1_0_fc6b160f12" x="649.2" y="118.5" style="fill: #9bd93c; stroke: #9bd93c"/>
    </g>
   </g>
  </g>
  <g id="patch_10">
   <path d="M -6.84 478.86 
L 229.32 478.86 
L 229.32 242.7 
L -6.84 242.7 
z
" style="fill: #ffffff"/>
  </g>
  <g id="pane3d_7">
   <g id="patch_11">
    <path d="M 10.991709 420.630512 
L 88.979453 355.259638 
L 87.895349 260.983152 
L 6.175489 320.618584 
" style="fill: #f2f2f2; opacity: 0.5; stroke: #f2f2f2; stroke-linejoin: miter"/>
   </g>
  </g>
  <g id="pane3d_8">
   <g id="patch_12">
    <path d="M 88.979453 355.259638 
L 214.121957 391.633624 
L 218.587852 294.109892 
L 87.895349 260.983152 
" style="fill: #e6e6e6; opacity: 0.5; stroke: #e6e6e6; stroke-linejoin: miter"/>
   </g>
  </g>
  <g id="pane3d_9">
   <g id="patch_13">
    <path d="M 10.991709 420.630512 
L 143.648875 463.956343 
L 214.121957 391.633624 
L 88.979453 355.259638 
" style="fill: #ececec; opacity: 0.5; stroke: #ececec; stroke-linejoin: miter"/>
   </g>
  </g>
  <g id="grid3d_7">
   <g id="Line3DCollection_7">
    <path d="M 18.549752 423.098969 
L 96.139098 357.340664 
L 95.357652 262.874628 
" style="fill: none; stroke: #b0b0b0; stroke-width: 0.8"/>
    <path d="M 41.391056 430.558939 
L 117.754475 363.623401 
L 117.897702 268.587874 
" style="fill: none; stroke: #b0b0b0; stroke-width: 0.8"/>
    <path d="M 64.660994 438.158901 
L 139.741673 370.014212 
L 140.84234 274.403671 
" style="fill: none; stroke: #b0b0b0; stroke-width: 0.8"/>
    <path d="M 88.371746 445.902832 
L 162.110368 376.515908 
L 164.202556 280.324805 
" style="fill: none; stroke: #b0b0b0; stroke-width: 0.8"/>
    <path d="M 112.535959 453.794864 
L 184.870577 383.131402 
L 187.989746 286.354164 
" style="fill: none; stroke: #b0b0b0; stroke-width: 0.8"/>
    <path d="M 137.166765 461.839286 
L 208.032668 389.863708 
L 212.215723 292.494743 
" style="fill: none; stroke: #b0b0b0; stroke-width: 0.8"/>
   </g>
  </g>
  <g id="grid3d_8">
   <g id="Line3DCollection_8">
    <path d="M 10.706283 317.312217 
L 15.300101 417.019132 
L 147.558395 459.944213 
" style="fill: none; stroke: #b0b0b0; stroke-width: 0.8"/>
    <path d="M 26.406254 305.855093 
L 30.243433 404.493335 
L 161.103473 446.043631 
" style="fill: none; stroke: #b0b0b0; stroke-width: 0.8"/>
    <path d="M 41.598238 294.768675 
L 44.72401 392.355428 
L 174.207226 432.595957 
" style="fill: none; stroke: #b0b0b0; stroke-width: 0.8"/>
    <path d="M 56.306495 284.035259 
L 58.762999 380.58767 
L 186.890876 419.579412 
" style="fill: none; stroke: #b0b0b0; stroke-width: 0.8"/>
    <path d="M 70.553768 273.638248 
L 72.380295 369.173382 
L 199.174307 406.97359 
" style="fill: none; stroke: #b0b0b0; stroke-width: 0.8"/>
    <path d="M 84.361393 263.562072 
L 85.594618 358.096874 
L 211.076167 394.759354 
" style="fill: none; stroke: #b0b0b0; stroke-width: 0.8"/>
   </g>
  </g>
  <g id="grid3d_9">
   <g id="Line3DCollection_9">
    <path d="M 214.349233 386.670492 
L 88.924171 350.452142 
L 10.746996 415.548892 
" style="fill: none; stroke: #b0b0b0; stroke-width: 0.8"/>
    <path d="M 215.114362 369.962029 
L 88.738149 334.275223 
L 9.922857 398.435126 
" style="fill: none; stroke: #b0b0b0; stroke-width: 0.8"/>
    <path d="M 215.8913 352.995699 
L 88.549394 317.860618 
L 9.085513 381.047122 
" style="fill: none; stroke: #b0b0b0; stroke-width: 0.8"/>
    <path d="M 216.680321 335.765485 
L 88.357846 301.203048 
L 8.234642 363.378235 
" style="fill: none; stroke: #b0b0b0; stroke-width: 0.8"/>
    <path d="M 217.481711 318.265183 
L 88.16344 284.297079 
L 7.369914 345.421603 
" style="fill: none; stroke: #b0b0b0; stroke-width: 0.8"/>
    <path d="M 218.295762 300.488392 
L 87.966115 267.137113 
L 6.490988 327.170139 
" style="fill: none; stroke: #b0b0b0; stroke-width: 0.8"/>
   </g>
  </g>
  <g id="axis3d_7">
   <g id="line2d_42">
    <path d="M 10.991709 420.630512 
L 143.648875 463.956343 
" style="fill: none; stroke: #000000; stroke-width: 0.8; stroke-linecap: square"/>
   </g>
   <g id="xtick_36">
    <g id="line2d_43">
     <path d="M 19.225385 422.526359 
L 17.195587 424.246647 
" style="fill: none; stroke: #000000; stroke-width: 0.8; stroke-linecap: square"/>
    </g>
    <g id="text_42">
     <text style="font-size: 10px; font-family: 'Liberation Sans'; text-anchor: middle" x="11.016622" y="446.411818" transform="translate(0.000 0.960) rotate(-0 11.016622 446.411818)" textLength="21.805" lengthAdjust="spacingAndGlyphs">0.20</text>
    </g>
   </g>
   <g id="xtick_37">
    <g id="line2d_44">
     <path d="M 42.056515 429.975637 
L 40.057254 431.728068 
" style="fill: none; stroke: #000000; stroke-width: 0.8; stroke-linecap: square"/>
    </g>
    <g id="text_43">
     <text style="font-size: 10px; font-family: 'Liberation Sans'; text-anchor: middle" x="33.884199" y="454.050029" transform="translate(0.000 0.960) rotate(-0 33.884199 454.050029)" textLength="21.614" lengthAdjust="spacingAndGlyphs">0.22</text>
    </g>
   </g>
   <g id="xtick_38">
    <g id="line2d_45">
     <path d="M 65.315778 437.564605 
L 63.348563 439.350089 
" style="fill: none; stroke: #000000; stroke-width: 0.8; stroke-linecap: square"/>
    </g>
    <g id="text_44">
     <text style="font-size: 10px; font-family: 'Liberation Sans'; text-anchor: middle" x="57.182736" y="461.832189" transform="translate(0.000 0.960) rotate(-0 57.182736 461.832189)" textLength="21.850" lengthAdjust="spacingAndGlyphs">0.24</text>
    </g>
   </g>
   <g id="xtick_39">
    <g id="line2d_46">
     <path d="M 89.01533 445.29723 
L 87.081739 447.116709 
" style="fill: none; stroke: #000000; stroke-width: 0.8; stroke-linecap: square"/>
    </g>
    <g id="text_45">
     <text style="font-size: 10px; font-family: 'Liberation Sans'; text-anchor: middle" x="80.924531" y="469.762406" transform="translate(0.000 0.960) rotate(-0 80.924531 469.762406)" textLength="21.915" lengthAdjust="spacingAndGlyphs">0.26</text>
    </g>
   </g>
   <g id="xtick_40">
    <g id="line2d_47">
     <path d="M 113.167791 453.177629 
L 111.269479 455.032085 
" style="fill: none; stroke: #000000; stroke-width: 0.8; stroke-linecap: square"/>
    </g>
    <g id="text_46">
     <text style="font-size: 10px; font-family: 'Liberation Sans'; text-anchor: middle" x="105.122356" y="477.844946" transform="translate(0.000 0.960) rotate(-0 105.122356 477.844946)" textLength="21.863" lengthAdjust="spacingAndGlyphs">0.28</text>
    </g>
   </g>
   <g id="xtick_41">
    <g id="line2d_48">
     <path d="M 137.786272 461.210079 
L 135.924967 463.100529 
" style="fill: none; stroke: #000000; stroke-width: 0.8; stroke-linecap: square"/>
    </g>
    <g id="text_47">
     <text style="font-size: 10px; font-family: 'Liberation Sans'; text-anchor: middle" x="129.789476" y="486.084239" transform="translate(0.000 0.960) rotate(-0 129.789476 486.084239)" textLength="21.805" lengthAdjust="spacingAndGlyphs">0.30</text>
    </g>
   </g>
   <g id="text_48">
    <text style="font-size: 10px; font-family: 'Liberation Sans'; text-anchor: middle" x="59.263039" y="479.790924" transform="translate(0.000 0.960) rotate(-0 59.263039 479.790924)" textLength="11.718" lengthAdjust="spacingAndGlyphs">x3</text>
   </g>
  </g>
  <g id="axis3d_8">
   <g id="line2d_49">
    <path d="M 214.121957 391.633624 
L 143.648875 463.956343 
" style="fill: none; stroke: #000000; stroke-width: 0.8; stroke-linecap: square"/>
   </g>
   <g id="xtick_42">
    <g id="line2d_50">
     <path d="M 146.443784 459.582461 
L 149.790504 460.668655 
" style="fill: none; stroke: #000000; stroke-width: 0.8; stroke-linecap: square"/>
    </g>
    <g id="text_49">
     <text style="font-size: 10px; font-family: 'Liberation Sans'; text-anchor: middle" x="160.454607" y="480.983529" transform="translate(0.000 0.960) rotate(-0 160.454607 480.983529)" textLength="12.180" lengthAdjust="spacingAndGlyphs">10</text>
    </g>
   </g>
   <g id="xtick_43">
    <g id="line2d_51">
     <path d="M 160.001572 445.693758 
L 163.310082 446.744267 
" style="fill: none; stroke: #000000; stroke-width: 0.8; stroke-linecap: square"/>
    </g>
    <g id="text_50">
     <text style="font-size: 10px; font-family: 'Liberation Sans'; text-anchor: middle" x="173.794971" y="466.850971" transform="translate(0.000 0.960) rotate(-0 173.794971 466.850971)" textLength="11.970" lengthAdjust="spacingAndGlyphs">12</text>
    </g>
   </g>
   <g id="xtick_44">
    <g id="line2d_52">
     <path d="M 173.117805 432.257389 
L 176.388798 433.273941 
" style="fill: none; stroke: #000000; stroke-width: 0.8; stroke-linecap: square"/>
    </g>
    <g id="text_51">
     <text style="font-size: 10px; font-family: 'Liberation Sans'; text-anchor: middle" x="186.700395" y="453.179182" transform="translate(0.000 0.960) rotate(-0 186.700395 453.179182)" textLength="12.230" lengthAdjust="spacingAndGlyphs">14</text>
    </g>
   </g>
   <g id="xtick_45">
    <g id="line2d_53">
     <path d="M 185.813707 419.251609 
L 189.047868 420.235826 
" style="fill: none; stroke: #000000; stroke-width: 0.8; stroke-linecap: square"/>
    </g>
    <g id="text_52">
     <text style="font-size: 10px; font-family: 'Liberation Sans'; text-anchor: middle" x="199.191808" y="439.945989" transform="translate(0.000 0.960) rotate(-0 199.191808 439.945989)" textLength="12.297" lengthAdjust="spacingAndGlyphs">16</text>
    </g>
   </g>
   <g id="xtick_46">
    <g id="line2d_54">
     <path d="M 198.109165 406.656047 
L 201.307173 407.609447 
" style="fill: none; stroke: #000000; stroke-width: 0.8; stroke-linecap: square"/>
    </g>
    <g id="text_53">
     <text style="font-size: 10px; font-family: 'Liberation Sans'; text-anchor: middle" x="211.288819" y="427.130619" transform="translate(0.000 0.960) rotate(-0 211.288819 427.130619)" textLength="12.241" lengthAdjust="spacingAndGlyphs">18</text>
    </g>
   </g>
   <g id="xtick_47">
    <g id="line2d_55">
     <path d="M 210.022831 394.451596 
L 213.185353 395.375604 
" style="fill: none; stroke: #000000; stroke-width: 0.8; stroke-linecap: square"/>
    </g>
    <g id="text_54">
     <text style="font-size: 10px; font-family: 'Liberation Sans'; text-anchor: middle" x="223.009816" y="414.713591" transform="translate(0.000 0.960) rotate(-0 223.009816 414.713591)" textLength="12.263" lengthAdjust="spacingAndGlyphs">20</text>
    </g>
   </g>
   <g id="text_55">
    <text style="font-size: 10px; font-family: 'Liberation Sans'; text-anchor: middle" x="207.437444" y="456.951139" transform="translate(0.000 0.960) rotate(-0 207.437444 456.951139)" textLength="11.862" lengthAdjust="spacingAndGlyphs">x4</text>
   </g>
  </g>
  <g id="axis3d_9">
   <g id="line2d_56">
    <path d="M 214.121957 391.633624 
L 218.587852 294.109892 
" style="fill: none; stroke: #000000; stroke-width: 0.8; stroke-linecap: square"/>
   </g>
   <g id="xtick_48">
    <g id="line2d_57">
     <path d="M 213.296459 386.366488 
L 216.457291 387.279225 
" style="fill: none; stroke: #000000; stroke-width: 0.8; stroke-linecap: square"/>
    </g>
    <g id="text_56">
     <text style="font-size: 10px; font-family: 'Liberation Sans'; text-anchor: middle" x="232.631614" y="391.675805" transform="translate(0.000 0.960) rotate(-0 232.631614 391.675805)" textLength="5.851" lengthAdjust="spacingAndGlyphs">0</text>
    </g>
   </g>
   <g id="xtick_49">
    <g id="line2d_58">
     <path d="M 214.053224 369.662379 
L 217.239188 370.562049 
" style="fill: none; stroke: #000000; stroke-width: 0.8; stroke-linecap: square"/>
    </g>
    <g id="text_57">
     <text style="font-size: 10px; font-family: 'Liberation Sans'; text-anchor: middle" x="233.533654" y="375.004541" transform="translate(0.000 0.960) rotate(-0 233.533654 375.004541)" textLength="12.263" lengthAdjust="spacingAndGlyphs">20</text>
    </g>
   </g>
   <g id="xtick_50">
    <g id="line2d_59">
     <path d="M 214.821663 352.700574 
L 218.033162 353.586663 
" style="fill: none; stroke: #000000; stroke-width: 0.8; stroke-linecap: square"/>
    </g>
    <g id="text_58">
     <text style="font-size: 10px; font-family: 'Liberation Sans'; text-anchor: middle" x="234.449569" y="358.076867" transform="translate(0.000 0.960) rotate(-0 234.449569 358.076867)" textLength="12.177" lengthAdjust="spacingAndGlyphs">40</text>
    </g>
   </g>
   <g id="xtick_51">
    <g id="line2d_60">
     <path d="M 215.60205 335.475063 
L 218.839496 336.347038 
" style="fill: none; stroke: #000000; stroke-width: 0.8; stroke-linecap: square"/>
    </g>
    <g id="text_59">
     <text style="font-size: 10px; font-family: 'Liberation Sans'; text-anchor: middle" x="235.379679" y="340.886823" transform="translate(0.000 0.960) rotate(-0 235.379679 340.886823)" textLength="12.317" lengthAdjust="spacingAndGlyphs">60</text>
    </g>
   </g>
   <g id="xtick_52">
    <g id="line2d_61">
     <path d="M 216.394664 317.979648 
L 219.658479 318.836956 
" style="fill: none; stroke: #000000; stroke-width: 0.8; stroke-linecap: square"/>
    </g>
    <g id="text_60">
     <text style="font-size: 10px; font-family: 'Liberation Sans'; text-anchor: middle" x="236.324319" y="323.428261" transform="translate(0.000 0.960) rotate(-0 236.324319 323.428261)" textLength="12.311" lengthAdjust="spacingAndGlyphs">80</text>
    </g>
   </g>
   <g id="xtick_53">
    <g id="line2d_62">
     <path d="M 217.199795 300.207935 
L 220.490412 301.050002 
" style="fill: none; stroke: #000000; stroke-width: 0.8; stroke-linecap: square"/>
    </g>
    <g id="text_61">
     <text style="font-size: 10px; font-family: 'Liberation Sans'; text-anchor: middle" x="237.28383" y="305.69484" transform="translate(0.000 0.960) rotate(-0 237.28383 305.69484)" textLength="18.616" lengthAdjust="spacingAndGlyphs">100</text>
    </g>
   </g>
   <g id="text_62">
    <text style="font-size: 10px; font-family: 'Liberation Sans'; text-anchor: middle" x="259.404319" y="338.661481" transform="translate(0.959 0.044) rotate(-87.378092 259.404319 338.661481)" textLength="63.531" lengthAdjust="spacingAndGlyphs">Removal (%)</text>
   </g>
  </g>
  <g id="axes_3">
   <g id="Path3DCollection_3">
    <defs>
     <path id="C2_0_fc6b160f12" d="M 0 2.291288 
C 0.607657 2.291288 1.190507 2.049863 1.620185 1.620185 
C 2.049863 1.190507 2.291288 0.607657 2.291288 -0 
C 2.291288 -0.607657 2.049863 -1.190507 1.620185 -1.620185 
C 1.190507 -2.049863 0.607657 -2.291288 0 -2.291288 
C -0.607657 -2.291288 -1.190507 -2.049863 -1.620185 -1.620185 
C -2.049863 -1.190507 -2.291288 -0.607657 -2.291288 0 
C -2.291288 0.607657 -2.049863 1.190507 -1.620185 1.620185 
C -1.190507 2.049863 -0.607657 2.291288 0 2.291288 
z
"/>
    </defs>
    <g clip-path="url(#p444269ef8e)">
     <use href="#C2_0_fc6b160f12" x="94.8" y="346.2" style="fill: #443a83; fill-opacity: 0.3; stroke: #443a83; stroke-opacity: 0.3"/>
    </g>
    <g clip-path="url(#p444269ef8e)">
     <use href="#C2_0_fc6b160f12" x="113.1" y="292.2" style="fill: #6ece58; fill-opacity: 0.382057; stroke: #6ece58; stroke-opacity: 0.382057"/>
    </g>
    <g clip-path="url(#p444269ef8e)">
     <use href="#C2_0_fc6b160f12" x="74.1" y="352.5" style="fill: #3c4f8a; fill-opacity: 0.392347; stroke: #3c4f8a; stroke-opacity: 0.392347"/>
    </g>
    <g clip-path="url(#p444269ef8e)">
     <use href="#C2_0_fc6b160f12" x="93.9" y="338.4" style="fill: #2c718e; fill-opacity: 0.394651; stroke: #2c718e; stroke-opacity: 0.394651"/>
    </g>
    <g clip-path="url(#p444269ef8e)">
     <use href="#C2_0_fc6b160f12" x="82.5" y="348" style="fill: #365d8d; fill-opacity: 0.39939; stroke: #365d8d; stroke-opacity: 0.39939"/>
    </g>
    <g clip-path="url(#p444269ef8e)">
     <use href="#C2_0_fc6b160f12" x="144.9" y="336.3" style="fill: #297b8e; fill-opacity: 0.410613; stroke: #297b8e; stroke-opacity: 0.410613"/>
    </g>
    <g clip-path="url(#p444269ef8e)">
     <use href="#C2_0_fc6b160f12" x="77.4" y="287.1" style="fill: #b0dd2f; fill-opacity: 0.425932; stroke: #b0dd2f; stroke-opacity: 0.425932"/>
    </g>
    <g clip-path="url(#p444269ef8e)">
     <use href="#C2_0_fc6b160f12" x="117.9" y="296.4" style="fill: #7ad151; fill-opacity: 0.428479; stroke: #7ad151; stroke-opacity: 0.428479"/>
    </g>
    <g clip-path="url(#p444269ef8e)">
     <use href="#C2_0_fc6b160f12" x="107.1" y="368.4" style="fill: #443a83; fill-opacity: 0.44565; stroke: #443a83; stroke-opacity: 0.44565"/>
    </g>
    <g clip-path="url(#p444269ef8e)">
     <use href="#C2_0_fc6b160f12" x="117" y="350.4" style="fill: #306a8e; fill-opacity: 0.452996; stroke: #306a8e; stroke-opacity: 0.452996"/>
    </g>
    <g clip-path="url(#p444269ef8e)">
     <use href="#C2_0_fc6b160f12" x="84.9" y="368.4" style="fill: #424086; fill-opacity: 0.46043; stroke: #424086; stroke-opacity: 0.46043"/>
    </g>
    <g clip-path="url(#p444269ef8e)">
     <use href="#C2_0_fc6b160f12" x="167.1" y="347.4" style="fill: #2a768e; fill-opacity: 0.470796; stroke: #2a768e; stroke-opacity: 0.470796"/>
    </g>
    <g clip-path="url(#p444269ef8e)">
     <use href="#C2_0_fc6b160f12" x="164.1" y="346.8" style="fill: #297b8e; fill-opacity: 0.482077; stroke: #297b8e; stroke-opacity: 0.482077"/>
    </g>
    <g clip-path="url(#p444269ef8e)">
     <use href="#C2_0_fc6b160f12" x="158.4" y="347.4" style="fill: #297b8e; fill-opacity: 0.486161; stroke: #297b8e; stroke-opacity: 0.486161"/>
    </g>
    <g clip-path="url(#p444269ef8e)">
     <use href="#C2_0_fc6b160f12" x="109.8" y="367.2" style="fill: #3c4f8a; fill-opacity: 0.489816; stroke: #3c4f8a; stroke-opacity: 0.489816"/>
    </g>
    <g clip-path="url(#p444269ef8e)">
     <use href="#C2_0_fc6b160f12" x="100.8" y="339.3" style="fill: #218f8d; fill-opacity: 0.492765; stroke: #218f8d; stroke-opacity: 0.492765"/>
    </g>
    <g clip-path="url(#p444269ef8e)">
     <use href="#C2_0_fc6b160f12" x="72.9" y="330.3" style="fill: #1fa287; fill-opacity: 0.493256; stroke: #1fa287; stroke-opacity: 0.493256"/>
    </g>
    <g clip-path="url(#p444269ef8e)">
     <use href="#C2_0_fc6b160f12" x="144.6" y="373.5" style="fill: #424086; fill-opacity: 0.49399; stroke: #424086; stroke-opacity: 0.49399"/>
    </g>
    <g clip-path="url(#p444269ef8e)">
     <use href="#C2_0_fc6b160f12" x="68.4" y="339.9" style="fill: #218f8d; fill-opacity: 0.4969; stroke: #218f8d; stroke-opacity: 0.4969"/>
    </g>
    <g clip-path="url(#p444269ef8e)">
     <use href="#C2_0_fc6b160f12" x="112.8" y="300.9" style="fill: #9bd93c; fill-opacity: 0.502122; stroke: #9bd93c; stroke-opacity: 0.502122"/>
    </g>
    <g clip-path="url(#p444269ef8e)">
     <use href="#C2_0_fc6b160f12" x="186.6" y="357.9" style="fill: #306a8e; fill-opacity: 0.503491; stroke: #306a8e; stroke-opacity: 0.503491"/>
    </g>
    <g clip-path="url(#p444269ef8e)">
     <use href="#C2_0_fc6b160f12" x="138.9" y="335.4" style="fill: #1e9b8a; fill-opacity: 0.505053; stroke: #1e9b8a; stroke-opacity: 0.505053"/>
    </g>
    <g clip-path="url(#p444269ef8e)">
     <use href="#C2_0_fc6b160f12" x="54.9" y="335.7" style="fill: #1e9b8a; fill-opacity: 0.507138; stroke: #1e9b8a; stroke-opacity: 0.507138"/>
    </g>
    <g clip-path="url(#p444269ef8e)">
     <use href="#C2_0_fc6b160f12" x="151.5" y="313.2" style="fill: #5cc863; fill-opacity: 0.508871; stroke: #5cc863; stroke-opacity: 0.508871"/>
    </g>
    <g clip-path="url(#p444269ef8e)">
     <use href="#C2_0_fc6b160f12" x="97.5" y="378.6" style="fill: #443a83; fill-opacity: 0.51257; stroke: #443a83; stroke-opacity: 0.51257"/>
    </g>
    <g clip-path="url(#p444269ef8e)">
     <use href="#C2_0_fc6b160f12" x="78" y="294.9" style="fill: #cae11f; fill-opacity: 0.516526; stroke: #cae11f; stroke-opacity: 0.516526"/>
    </g>
    <g clip-path="url(#p444269ef8e)">
     <use href="#C2_0_fc6b160f12" x="125.1" y="303.3" style="fill: #9bd93c; fill-opacity: 0.51963; stroke: #9bd93c; stroke-opacity: 0.51963"/>
    </g>
    <g clip-path="url(#p444269ef8e)">
     <use href="#C2_0_fc6b160f12" x="70.5" y="379.8" style="fill: #443a83; fill-opacity: 0.520443; stroke: #443a83; stroke-opacity: 0.520443"/>
    </g>
    <g clip-path="url(#p444269ef8e)">
     <use href="#C2_0_fc6b160f12" x="78.6" y="360.6" style="fill: #306a8e; fill-opacity: 0.521669; stroke: #306a8e; stroke-opacity: 0.521669"/>
    </g>
    <g clip-path="url(#p444269ef8e)">
     <use href="#C2_0_fc6b160f12" x="114.6" y="381.000001" style="fill: #443a83; fill-opacity: 0.528315; stroke: #443a83; stroke-opacity: 0.528315"/>
    </g>
    <g clip-path="url(#p444269ef8e)">
     <use href="#C2_0_fc6b160f12" x="87.6" y="368.4" style="fill: #365d8d; fill-opacity: 0.535686; stroke: #365d8d; stroke-opacity: 0.535686"/>
    </g>
    <g clip-path="url(#p444269ef8e)">
     <use href="#C2_0_fc6b160f12" x="141.9" y="332.7" style="fill: #25ac82; fill-opacity: 0.541978; stroke: #25ac82; stroke-opacity: 0.541978"/>
    </g>
    <g clip-path="url(#p444269ef8e)">
     <use href="#C2_0_fc6b160f12" x="115.5" y="381" style="fill: #424086; fill-opacity: 0.543345; stroke: #424086; stroke-opacity: 0.543345"/>
    </g>
    <g clip-path="url(#p444269ef8e)">
     <use href="#C2_0_fc6b160f12" x="76.800002" y="381" style="fill: #424086; fill-opacity: 0.543345; stroke: #424086; stroke-opacity: 0.543345"/>
    </g>
    <g clip-path="url(#p444269ef8e)">
     <use href="#C2_0_fc6b160f12" x="136.5" y="358.5" style="fill: #2a768e; fill-opacity: 0.546109; stroke: #2a768e; stroke-opacity: 0.546109"/>
    </g>
    <g clip-path="url(#p444269ef8e)">
     <use href="#C2_0_fc6b160f12" x="160.5" y="384.6" style="fill: #443a83; fill-opacity: 0.551934; stroke: #443a83; stroke-opacity: 0.551934"/>
    </g>
    <g clip-path="url(#p444269ef8e)">
     <use href="#C2_0_fc6b160f12" x="51.6" y="336.9" style="fill: #22a785; fill-opacity: 0.555352; stroke: #22a785; stroke-opacity: 0.555352"/>
    </g>
    <g clip-path="url(#p444269ef8e)">
     <use href="#C2_0_fc6b160f12" x="132" y="299.4" style="fill: #d2e21b; fill-opacity: 0.55822; stroke: #d2e21b; stroke-opacity: 0.55822"/>
    </g>
    <g clip-path="url(#p444269ef8e)">
     <use href="#C2_0_fc6b160f12" x="108.6" y="299.4" style="fill: #d2e21b; fill-opacity: 0.55822; stroke: #d2e21b; stroke-opacity: 0.55822"/>
    </g>
    <g clip-path="url(#p444269ef8e)">
     <use href="#C2_0_fc6b160f12" x="130.5" y="360.3" style="fill: #2a768e; fill-opacity: 0.558322; stroke: #2a768e; stroke-opacity: 0.558322"/>
    </g>
    <g clip-path="url(#p444269ef8e)">
     <use href="#C2_0_fc6b160f12" x="69" y="308.4" style="fill: #a0da39; fill-opacity: 0.565224; stroke: #a0da39; stroke-opacity: 0.565224"/>
    </g>
    <g clip-path="url(#p444269ef8e)">
     <use href="#C2_0_fc6b160f12" x="90.9" y="350.4" style="fill: #218f8d; fill-opacity: 0.569266; stroke: #218f8d; stroke-opacity: 0.569266"/>
    </g>
    <g clip-path="url(#p444269ef8e)">
     <use href="#C2_0_fc6b160f12" x="120.6" y="350.4" style="fill: #218f8d; fill-opacity: 0.569266; stroke: #218f8d; stroke-opacity: 0.569266"/>
    </g>
    <g clip-path="url(#p444269ef8e)">
     <use href="#C2_0_fc6b160f12" x="115.499999" y="353.400004" style="fill: #238a8d; fill-opacity: 0.574057; stroke: #238a8d; stroke-opacity: 0.574057"/>
    </g>
    <g clip-path="url(#p444269ef8e)">
     <use href="#C2_0_fc6b160f12" x="136.5" y="352.5" style="fill: #218f8d; fill-opacity: 0.583739; stroke: #218f8d; stroke-opacity: 0.583739"/>
    </g>
    <g clip-path="url(#p444269ef8e)">
     <use href="#C2_0_fc6b160f12" x="175.8" y="350.7" style="fill: #20938c; fill-opacity: 0.58726; stroke: #20938c; stroke-opacity: 0.58726"/>
    </g>
    <g clip-path="url(#p444269ef8e)">
     <use href="#C2_0_fc6b160f12" x="171.600002" y="378" style="fill: #365d8d; fill-opacity: 0.599825; stroke: #365d8d; stroke-opacity: 0.599825"/>
    </g>
    <g clip-path="url(#p444269ef8e)">
     <use href="#C2_0_fc6b160f12" x="169.5" y="331.8" style="fill: #42be71; fill-opacity: 0.600764; stroke: #42be71; stroke-opacity: 0.600764"/>
    </g>
    <g clip-path="url(#p444269ef8e)">
     <use href="#C2_0_fc6b160f12" x="174.6" y="378.6" style="fill: #365d8d; fill-opacity: 0.603834; stroke: #365d8d; stroke-opacity: 0.603834"/>
    </g>
    <g clip-path="url(#p444269ef8e)">
     <use href="#C2_0_fc6b160f12" x="166.499999" y="356.1" style="fill: #218f8d; fill-opacity: 0.60855; stroke: #218f8d; stroke-opacity: 0.60855"/>
    </g>
    <g clip-path="url(#p444269ef8e)">
     <use href="#C2_0_fc6b160f12" x="119.1" y="397.8" style="fill: #46307e; fill-opacity: 0.615667; stroke: #46307e; stroke-opacity: 0.615667"/>
    </g>
    <g clip-path="url(#p444269ef8e)">
     <use href="#C2_0_fc6b160f12" x="129.6" y="369" style="fill: #2a768e; fill-opacity: 0.617351; stroke: #2a768e; stroke-opacity: 0.617351"/>
    </g>
    <g clip-path="url(#p444269ef8e)">
     <use href="#C2_0_fc6b160f12" x="181.5" y="391.5" style="fill: #404688; fill-opacity: 0.627769; stroke: #404688; stroke-opacity: 0.627769"/>
    </g>
    <g clip-path="url(#p444269ef8e)">
     <use href="#C2_0_fc6b160f12" x="142.5" y="399.9" style="fill: #46307e; fill-opacity: 0.629383; stroke: #46307e; stroke-opacity: 0.629383"/>
    </g>
    <g clip-path="url(#p444269ef8e)">
     <use href="#C2_0_fc6b160f12" x="89.1" y="359.4" style="fill: #218f8d; fill-opacity: 0.631294; stroke: #218f8d; stroke-opacity: 0.631294"/>
    </g>
    <g clip-path="url(#p444269ef8e)">
     <use href="#C2_0_fc6b160f12" x="86.1" y="359.4" style="fill: #218f8d; fill-opacity: 0.631294; stroke: #218f8d; stroke-opacity: 0.631294"/>
    </g>
    <g clip-path="url(#p444269ef8e)">
     <use href="#C2_0_fc6b160f12" x="59.1" y="320.1" style="fill: #9bd93c; fill-opacity: 0.642181; stroke: #9bd93c; stroke-opacity: 0.642181"/>
    </g>
    <g clip-path="url(#p444269ef8e)">
     <use href="#C2_0_fc6b160f12" x="58.500001" y="340.5" style="fill: #3aba76; fill-opacity: 0.646041; stroke: #3aba76; stroke-opacity: 0.646041"/>
    </g>
    <g clip-path="url(#p444269ef8e)">
     <use href="#C2_0_fc6b160f12" x="82.800002" y="336" style="fill: #4cc26c; fill-opacity: 0.647294; stroke: #4cc26c; stroke-opacity: 0.647294"/>
    </g>
    <g clip-path="url(#p444269ef8e)">
     <use href="#C2_0_fc6b160f12" x="164.999999" y="338.4" style="fill: #42be71; fill-opacity: 0.647733; stroke: #42be71; stroke-opacity: 0.647733"/>
    </g>
    <g clip-path="url(#p444269ef8e)">
     <use href="#C2_0_fc6b160f12" x="48.9" y="403.5" style="fill: #46307e; fill-opacity: 0.652896; stroke: #46307e; stroke-opacity: 0.652896"/>
    </g>
    <g clip-path="url(#p444269ef8e)">
     <use href="#C2_0_fc6b160f12" x="95.4" y="407.1" style="fill: #482878; fill-opacity: 0.653473; stroke: #482878; stroke-opacity: 0.653473"/>
    </g>
    <g clip-path="url(#p444269ef8e)">
     <use href="#C2_0_fc6b160f12" x="171.6" y="335.4" style="fill: #5cc863; fill-opacity: 0.668155; stroke: #5cc863; stroke-opacity: 0.668155"/>
    </g>
    <g clip-path="url(#p444269ef8e)">
     <use href="#C2_0_fc6b160f12" x="135" y="365.4" style="fill: #218f8d; fill-opacity: 0.672646; stroke: #218f8d; stroke-opacity: 0.672646"/>
    </g>
    <g clip-path="url(#p444269ef8e)">
     <use href="#C2_0_fc6b160f12" x="167.1" y="366" style="fill: #218f8d; fill-opacity: 0.676781; stroke: #218f8d; stroke-opacity: 0.676781"/>
    </g>
    <g clip-path="url(#p444269ef8e)">
     <use href="#C2_0_fc6b160f12" x="93.899999" y="342.9" style="fill: #42be71; fill-opacity: 0.679757; stroke: #42be71; stroke-opacity: 0.679757"/>
    </g>
    <g clip-path="url(#p444269ef8e)">
     <use href="#C2_0_fc6b160f12" x="96.9" y="411.6" style="fill: #482878; fill-opacity: 0.682733; stroke: #482878; stroke-opacity: 0.682733"/>
    </g>
    <g clip-path="url(#p444269ef8e)">
     <use href="#C2_0_fc6b160f12" x="69" y="366.9" style="fill: #218f8d; fill-opacity: 0.682984; stroke: #218f8d; stroke-opacity: 0.682984"/>
    </g>
    <g clip-path="url(#p444269ef8e)">
     <use href="#C2_0_fc6b160f12" x="144" y="405" style="fill: #404688; fill-opacity: 0.716875; stroke: #404688; stroke-opacity: 0.716875"/>
    </g>
    <g clip-path="url(#p444269ef8e)">
     <use href="#C2_0_fc6b160f12" x="121.5" y="345.9" style="fill: #4cc26c; fill-opacity: 0.717978; stroke: #4cc26c; stroke-opacity: 0.717978"/>
    </g>
    <g clip-path="url(#p444269ef8e)">
     <use href="#C2_0_fc6b160f12" x="60" y="390.3" style="fill: #306a8e; fill-opacity: 0.721629; stroke: #306a8e; stroke-opacity: 0.721629"/>
    </g>
    <g clip-path="url(#p444269ef8e)">
     <use href="#C2_0_fc6b160f12" x="155.1" y="414.9" style="fill: #46307e; fill-opacity: 0.727354; stroke: #46307e; stroke-opacity: 0.727354"/>
    </g>
    <g clip-path="url(#p444269ef8e)">
     <use href="#C2_0_fc6b160f12" x="45" y="351" style="fill: #42be71; fill-opacity: 0.737401; stroke: #42be71; stroke-opacity: 0.737401"/>
    </g>
    <g clip-path="url(#p444269ef8e)">
     <use href="#C2_0_fc6b160f12" x="139.5" y="349.2" style="fill: #4cc26c; fill-opacity: 0.741539; stroke: #4cc26c; stroke-opacity: 0.741539"/>
    </g>
    <g clip-path="url(#p444269ef8e)">
     <use href="#C2_0_fc6b160f12" x="85.2" y="351.9" style="fill: #42be71; fill-opacity: 0.743806; stroke: #42be71; stroke-opacity: 0.743806"/>
    </g>
    <g clip-path="url(#p444269ef8e)">
     <use href="#C2_0_fc6b160f12" x="86.4" y="375.9" style="fill: #218f8d; fill-opacity: 0.745011; stroke: #218f8d; stroke-opacity: 0.745011"/>
    </g>
    <g clip-path="url(#p444269ef8e)">
     <use href="#C2_0_fc6b160f12" x="75.9" y="335.4" style="fill: #9bd93c; fill-opacity: 0.753791; stroke: #9bd93c; stroke-opacity: 0.753791"/>
    </g>
    <g clip-path="url(#p444269ef8e)">
     <use href="#C2_0_fc6b160f12" x="111.6" y="345" style="fill: #6ece58; fill-opacity: 0.762769; stroke: #6ece58; stroke-opacity: 0.762769"/>
    </g>
    <g clip-path="url(#p444269ef8e)">
     <use href="#C2_0_fc6b160f12" x="134.1" y="402.9" style="fill: #365d8d; fill-opacity: 0.766187; stroke: #365d8d; stroke-opacity: 0.766187"/>
    </g>
    <g clip-path="url(#p444269ef8e)">
     <use href="#C2_0_fc6b160f12" x="101.7" y="328.5" style="fill: #d2e21b; fill-opacity: 0.773371; stroke: #d2e21b; stroke-opacity: 0.773371"/>
    </g>
    <g clip-path="url(#p444269ef8e)">
     <use href="#C2_0_fc6b160f12" x="138.6" y="416.1" style="fill: #424086; fill-opacity: 0.774322; stroke: #424086; stroke-opacity: 0.774322"/>
    </g>
    <g clip-path="url(#p444269ef8e)">
     <use href="#C2_0_fc6b160f12" x="161.4" y="380.4" style="fill: #218f8d; fill-opacity: 0.776025; stroke: #218f8d; stroke-opacity: 0.776025"/>
    </g>
    <g clip-path="url(#p444269ef8e)">
     <use href="#C2_0_fc6b160f12" x="141.6" y="417" style="fill: #424086; fill-opacity: 0.780244; stroke: #424086; stroke-opacity: 0.780244"/>
    </g>
    <g clip-path="url(#p444269ef8e)">
     <use href="#C2_0_fc6b160f12" x="44.4" y="338.7" style="fill: #a0da39; fill-opacity: 0.786625; stroke: #a0da39; stroke-opacity: 0.786625"/>
    </g>
    <g clip-path="url(#p444269ef8e)">
     <use href="#C2_0_fc6b160f12" x="121.5" y="358.8" style="fill: #42be71; fill-opacity: 0.79291; stroke: #42be71; stroke-opacity: 0.79291"/>
    </g>
    <g clip-path="url(#p444269ef8e)">
     <use href="#C2_0_fc6b160f12" x="167.1" y="333" style="fill: #d2e21b; fill-opacity: 0.806642; stroke: #d2e21b; stroke-opacity: 0.806642"/>
    </g>
    <g clip-path="url(#p444269ef8e)">
     <use href="#C2_0_fc6b160f12" x="108" y="398.1" style="fill: #297b8e; fill-opacity: 0.831229; stroke: #297b8e; stroke-opacity: 0.831229"/>
    </g>
    <g clip-path="url(#p444269ef8e)">
     <use href="#C2_0_fc6b160f12" x="134.1" y="435.9" style="fill: #482878; fill-opacity: 0.840736; stroke: #482878; stroke-opacity: 0.840736"/>
    </g>
    <g clip-path="url(#p444269ef8e)">
     <use href="#C2_0_fc6b160f12" x="118.5" y="372.9" style="fill: #2eb37c; fill-opacity: 0.85; stroke: #2eb37c; stroke-opacity: 0.85"/>
    </g>
    <g clip-path="url(#p444269ef8e)">
     <use href="#C2_0_fc6b160f12" x="108" y="339.9" style="fill: #d2e21b; fill-opacity: 0.857657; stroke: #d2e21b; stroke-opacity: 0.857657"/>
    </g>
    <g clip-path="url(#p444269ef8e)">
     <use href="#C2_0_fc6b160f12" x="123.6" y="392.4" style="fill: #218f8d; fill-opacity: 0.858729; stroke: #218f8d; stroke-opacity: 0.858729"/>
    </g>
    <g clip-path="url(#p444269ef8e)">
     <use href="#C2_0_fc6b160f12" x="130.5" y="405.6" style="fill: #2a768e; fill-opacity: 0.86568; stroke: #2a768e; stroke-opacity: 0.86568"/>
    </g>
    <g clip-path="url(#p444269ef8e)">
     <use href="#C2_0_fc6b160f12" x="100.5" y="373.5" style="fill: #3aba76; fill-opacity: 0.880123; stroke: #3aba76; stroke-opacity: 0.880123"/>
    </g>
    <g clip-path="url(#p444269ef8e)">
     <use href="#C2_0_fc6b160f12" x="98.4" y="353.4" style="fill: #9bd93c; fill-opacity: 0.885096; stroke: #9bd93c; stroke-opacity: 0.885096"/>
    </g>
    <g clip-path="url(#p444269ef8e)">
     <use href="#C2_0_fc6b160f12" x="108.9" y="353.4" style="fill: #9bd93c; fill-opacity: 0.885096; stroke: #9bd93c; stroke-opacity: 0.885096"/>
    </g>
    <g clip-path="url(#p444269ef8e)">
     <use href="#C2_0_fc6b160f12" x="134.4" y="399" style="fill: #238a8d; fill-opacity: 0.887343; stroke: #238a8d; stroke-opacity: 0.887343"/>
    </g>
    <g clip-path="url(#p444269ef8e)">
     <use href="#C2_0_fc6b160f12" x="88.5" y="345" style="fill: #d2e21b; fill-opacity: 0.895364; stroke: #d2e21b; stroke-opacity: 0.895364"/>
    </g>
    <g clip-path="url(#p444269ef8e)">
     <use href="#C2_0_fc6b160f12" x="139.5" y="387.9" style="fill: #42be71; stroke: #42be71"/>
    </g>
   </g>
  </g>
  <g id="patch_14">
   <path d="M 490.56 478.86 
L 726.72 478.86 
L 726.72 242.7 
L 490.56 242.7 
z
" style="fill: #ffffff"/>
  </g>
  <g id="pane3d_10">
   <g id="patch_15">
    <path d="M 508.391709 420.630512 
L 586.379453 355.259638 
L 585.295349 260.983152 
L 503.575489 320.618584 
" style="fill: #f2f2f2; opacity: 0.5; stroke: #f2f2f2; stroke-linejoin: miter"/>
   </g>
  </g>
  <g id="pane3d_11">
   <g id="patch_16">
    <path d="M 586.379453 355.259638 
L 711.521957 391.633624 
L 715.987852 294.109892 
L 585.295349 260.983152 
" style="fill: #e6e6e6; opacity: 0.5; stroke: #e6e6e6; stroke-linejoin: miter"/>
   </g>
  </g>
  <g id="pane3d_12">
   <g id="patch_17">
    <path d="M 508.391709 420.630512 
L 641.048875 463.956343 
L 711.521957 391.633624 
L 586.379453 355.259638 
" style="fill: #ececec; opacity: 0.5; stroke: #ececec; stroke-linejoin: miter"/>
   </g>
  </g>
  <g id="grid3d_10">
   <g id="Line3DCollection_10">
    <path d="M 514.821541 422.730495 
L 592.470586 357.03009 
L 591.643856 262.592314 
" style="fill: none; stroke: #b0b0b0; stroke-width: 0.8"/>
    <path d="M 537.855768 430.253474 
L 614.270032 363.366329 
L 614.375102 268.354022 
" style="fill: none; stroke: #b0b0b0; stroke-width: 0.8"/>
    <path d="M 561.326139 437.918897 
L 636.447848 369.812544 
L 637.518041 274.220082 
" style="fill: none; stroke: #b0b0b0; stroke-width: 0.8"/>
    <path d="M 585.245158 445.730849 
L 659.013969 376.371624 
L 661.083962 280.193356 
" style="fill: none; stroke: #b0b0b0; stroke-width: 0.8"/>
    <path d="M 609.625813 453.693571 
L 681.978683 383.04656 
L 685.084566 286.27681 
" style="fill: none; stroke: #b0b0b0; stroke-width: 0.8"/>
    <path d="M 634.4816 461.811471 
L 705.352647 389.840449 
L 709.531993 292.47352 
" style="fill: none; stroke: #b0b0b0; stroke-width: 0.8"/>
   </g>
  </g>
  <g id="grid3d_11">
   <g id="Line3DCollection_11">
    <path d="M 519.980982 308.646602 
L 524.000508 407.546907 
L 655.203534 449.430181 
" style="fill: none; stroke: #b0b0b0; stroke-width: 0.8"/>
    <path d="M 541.237099 293.134856 
L 544.259759 390.565202 
L 673.538088 430.614418 
" style="fill: none; stroke: #b0b0b0; stroke-width: 0.8"/>
    <path d="M 561.555955 278.307081 
L 563.663144 374.300899 
L 691.058694 412.633965 
" style="fill: none; stroke: #b0b0b0; stroke-width: 0.8"/>
    <path d="M 580.998203 264.119014 
L 582.263778 358.709479 
L 707.818379 395.434406 
" style="fill: none; stroke: #b0b0b0; stroke-width: 0.8"/>
   </g>
  </g>
  <g id="grid3d_12">
   <g id="Line3DCollection_12">
    <path d="M 711.749233 386.670492 
L 586.324171 350.452142 
L 508.146996 415.548892 
" style="fill: none; stroke: #b0b0b0; stroke-width: 0.8"/>
    <path d="M 712.514362 369.962029 
L 586.138149 334.275223 
L 507.322857 398.435126 
" style="fill: none; stroke: #b0b0b0; stroke-width: 0.8"/>
    <path d="M 713.2913 352.995699 
L 585.949394 317.860618 
L 506.485513 381.047122 
" style="fill: none; stroke: #b0b0b0; stroke-width: 0.8"/>
    <path d="M 714.080321 335.765485 
L 585.757846 301.203048 
L 505.634642 363.378235 
" style="fill: none; stroke: #b0b0b0; stroke-width: 0.8"/>
    <path d="M 714.881711 318.265183 
L 585.56344 284.297079 
L 504.769914 345.421603 
" style="fill: none; stroke: #b0b0b0; stroke-width: 0.8"/>
    <path d="M 715.695762 300.488392 
L 585.366115 267.137113 
L 503.890988 327.170139 
" style="fill: none; stroke: #b0b0b0; stroke-width: 0.8"/>
   </g>
  </g>
  <g id="axis3d_10">
   <g id="line2d_63">
    <path d="M 508.391709 420.630512 
L 641.048875 463.956343 
" style="fill: none; stroke: #000000; stroke-width: 0.8; stroke-linecap: square"/>
   </g>
   <g id="xtick_54">
    <g id="line2d_64">
     <path d="M 515.497668 422.15841 
L 513.466386 423.877119 
" style="fill: none; stroke: #000000; stroke-width: 0.8; stroke-linecap: square"/>
    </g>
    <g id="text_63">
     <text style="font-size: 10px; font-family: 'Liberation Sans'; text-anchor: middle" x="507.287158" y="446.034555" transform="translate(0.000 0.960) rotate(-0 507.287158 446.034555)" textLength="12.180" lengthAdjust="spacingAndGlyphs">10</text>
    </g>
   </g>
   <g id="xtick_55">
    <g id="line2d_65">
     <path d="M 538.521651 429.670612 
L 536.521121 431.421721 
" style="fill: none; stroke: #000000; stroke-width: 0.8; stroke-linecap: square"/>
    </g>
    <g id="text_64">
     <text style="font-size: 10px; font-family: 'Liberation Sans'; text-anchor: middle" x="530.347801" y="453.737254" transform="translate(0.000 0.960) rotate(-0 530.347801 453.737254)" textLength="11.970" lengthAdjust="spacingAndGlyphs">12</text>
    </g>
   </g>
   <g id="xtick_56">
    <g id="line2d_66">
     <path d="M 561.981265 437.324951 
L 560.013023 439.109385 
" style="fill: none; stroke: #000000; stroke-width: 0.8; stroke-linecap: square"/>
    </g>
    <g id="text_65">
     <text style="font-size: 10px; font-family: 'Liberation Sans'; text-anchor: middle" x="553.84695" y="461.586422" transform="translate(0.000 0.960) rotate(-0 553.84695 461.586422)" textLength="12.230" lengthAdjust="spacingAndGlyphs">14</text>
    </g>
   </g>
   <g id="xtick_57">
    <g id="line2d_67">
     <path d="M 585.888994 445.125498 
L 583.954646 446.944219 
" style="fill: none; stroke: #000000; stroke-width: 0.8; stroke-linecap: square"/>
    </g>
    <g id="text_66">
     <text style="font-size: 10px; font-family: 'Liberation Sans'; text-anchor: middle" x="577.797233" y="469.586278" transform="translate(0.000 0.960) rotate(-0 577.797233 469.586278)" textLength="12.297" lengthAdjust="spacingAndGlyphs">16</text>
    </g>
   </g>
   <g id="xtick_58">
    <g id="line2d_68">
     <path d="M 610.257799 453.076485 
L 608.359027 454.93049 
" style="fill: none; stroke: #000000; stroke-width: 0.8; stroke-linecap: square"/>
    </g>
    <g id="text_67">
     <text style="font-size: 10px; font-family: 'Liberation Sans'; text-anchor: middle" x="602.211766" y="477.741203" transform="translate(0.000 0.960) rotate(-0 602.211766 477.741203)" textLength="12.241" lengthAdjust="spacingAndGlyphs">18</text>
    </g>
   </g>
   <g id="xtick_59">
    <g id="line2d_69">
     <path d="M 635.101149 461.182305 
L 633.239715 463.072631 
" style="fill: none; stroke: #000000; stroke-width: 0.8; stroke-linecap: square"/>
    </g>
    <g id="text_68">
     <text style="font-size: 10px; font-family: 'Liberation Sans'; text-anchor: middle" x="627.104181" y="486.055749" transform="translate(0.000 0.960) rotate(-0 627.104181 486.055749)" textLength="12.263" lengthAdjust="spacingAndGlyphs">20</text>
    </g>
   </g>
   <g id="text_69">
    <text style="font-size: 10px; font-family: 'Liberation Sans'; text-anchor: middle" x="556.663039" y="479.790924" transform="translate(0.000 0.960) rotate(-0 556.663039 479.790924)" textLength="11.862" lengthAdjust="spacingAndGlyphs">x4</text>
   </g>
  </g>
  <g id="axis3d_11">
   <g id="line2d_70">
    <path d="M 711.521957 391.633624 
L 641.048875 463.956343 
" style="fill: none; stroke: #000000; stroke-width: 0.8; stroke-linecap: square"/>
   </g>
   <g id="xtick_60">
    <g id="line2d_71">
     <path d="M 654.098518 449.077432 
L 657.41639 450.13658 
" style="fill: none; stroke: #000000; stroke-width: 0.8; stroke-linecap: square"/>
    </g>
    <g id="text_70">
     <text style="font-size: 10px; font-family: 'Liberation Sans'; text-anchor: middle" x="667.944933" y="470.294007" transform="translate(0.000 0.960) rotate(-0 667.944933 470.294007)" textLength="5.623" lengthAdjust="spacingAndGlyphs">2</text>
    </g>
   </g>
   <g id="xtick_61">
    <g id="line2d_72">
     <path d="M 672.45052 430.2775 
L 675.715939 431.289096 
" style="fill: none; stroke: #000000; stroke-width: 0.8; stroke-linecap: square"/>
    </g>
    <g id="text_71">
     <text style="font-size: 10px; font-family: 'Liberation Sans'; text-anchor: middle" x="686.002009" y="451.164644" transform="translate(0.000 0.960) rotate(-0 686.002009 451.164644)" textLength="5.837" lengthAdjust="spacingAndGlyphs">4</text>
    </g>
   </g>
   <g id="xtick_62">
    <g id="line2d_73">
     <path d="M 689.988133 412.311835 
L 693.202434 413.279012 
" style="fill: none; stroke: #000000; stroke-width: 0.8; stroke-linecap: square"/>
    </g>
    <g id="text_72">
     <text style="font-size: 10px; font-family: 'Liberation Sans'; text-anchor: middle" x="703.256945" y="432.885055" transform="translate(0.000 0.960) rotate(-0 703.256945 432.885055)" textLength="6.040" lengthAdjust="spacingAndGlyphs">6</text>
    </g>
   </g>
   <g id="xtick_63">
    <g id="line2d_74">
     <path d="M 706.764387 395.126112 
L 709.928882 396.051732 
" style="fill: none; stroke: #000000; stroke-width: 0.8; stroke-linecap: square"/>
    </g>
    <g id="text_73">
     <text style="font-size: 10px; font-family: 'Liberation Sans'; text-anchor: middle" x="719.76203" y="415.399845" transform="translate(0.000 0.960) rotate(-0 719.76203 415.399845)" textLength="5.976" lengthAdjust="spacingAndGlyphs">8</text>
    </g>
   </g>
   <g id="text_74">
    <text style="font-size: 10px; font-family: 'Liberation Sans'; text-anchor: middle" x="704.837444" y="456.951139" transform="translate(0.000 0.960) rotate(-0 704.837444 456.951139)" textLength="11.665" lengthAdjust="spacingAndGlyphs">x5</text>
   </g>
  </g>
  <g id="axis3d_12">
   <g id="line2d_75">
    <path d="M 711.521957 391.633624 
L 715.987852 294.109892 
" style="fill: none; stroke: #000000; stroke-width: 0.8; stroke-linecap: square"/>
   </g>
   <g id="xtick_64">
    <g id="line2d_76">
     <path d="M 710.696459 386.366488 
L 713.857291 387.279225 
" style="fill: none; stroke: #000000; stroke-width: 0.8; stroke-linecap: square"/>
    </g>
    <g id="text_75">
     <text style="font-size: 10px; font-family: 'Liberation Sans'; text-anchor: middle" x="730.031614" y="391.675805" transform="translate(0.000 0.960) rotate(-0 730.031614 391.675805)" textLength="5.851" lengthAdjust="spacingAndGlyphs">0</text>
    </g>
   </g>
   <g id="xtick_65">
    <g id="line2d_77">
     <path d="M 711.453224 369.662379 
L 714.639188 370.562049 
" style="fill: none; stroke: #000000; stroke-width: 0.8; stroke-linecap: square"/>
    </g>
    <g id="text_76">
     <text style="font-size: 10px; font-family: 'Liberation Sans'; text-anchor: middle" x="730.933654" y="375.004541" transform="translate(0.000 0.960) rotate(-0 730.933654 375.004541)" textLength="12.263" lengthAdjust="spacingAndGlyphs">20</text>
    </g>
   </g>
   <g id="xtick_66">
    <g id="line2d_78">
     <path d="M 712.221663 352.700574 
L 715.433162 353.586663 
" style="fill: none; stroke: #000000; stroke-width: 0.8; stroke-linecap: square"/>
    </g>
    <g id="text_77">
     <text style="font-size: 10px; font-family: 'Liberation Sans'; text-anchor: middle" x="731.849569" y="358.076867" transform="translate(0.000 0.960) rotate(-0 731.849569 358.076867)" textLength="12.177" lengthAdjust="spacingAndGlyphs">40</text>
    </g>
   </g>
   <g id="xtick_67">
    <g id="line2d_79">
     <path d="M 713.00205 335.475063 
L 716.239496 336.347038 
" style="fill: none; stroke: #000000; stroke-width: 0.8; stroke-linecap: square"/>
    </g>
    <g id="text_78">
     <text style="font-size: 10px; font-family: 'Liberation Sans'; text-anchor: middle" x="732.779679" y="340.886823" transform="translate(0.000 0.960) rotate(-0 732.779679 340.886823)" textLength="12.317" lengthAdjust="spacingAndGlyphs">60</text>
    </g>
   </g>
   <g id="xtick_68">
    <g id="line2d_80">
     <path d="M 713.794664 317.979648 
L 717.058479 318.836956 
" style="fill: none; stroke: #000000; stroke-width: 0.8; stroke-linecap: square"/>
    </g>
    <g id="text_79">
     <text style="font-size: 10px; font-family: 'Liberation Sans'; text-anchor: middle" x="733.724319" y="323.428261" transform="translate(0.000 0.960) rotate(-0 733.724319 323.428261)" textLength="12.311" lengthAdjust="spacingAndGlyphs">80</text>
    </g>
   </g>
   <g id="xtick_69">
    <g id="line2d_81">
     <path d="M 714.599795 300.207935 
L 717.890412 301.050002 
" style="fill: none; stroke: #000000; stroke-width: 0.8; stroke-linecap: square"/>
    </g>
    <g id="text_80">
     <text style="font-size: 10px; font-family: 'Liberation Sans'; text-anchor: middle" x="734.68383" y="305.69484" transform="translate(0.000 0.960) rotate(-0 734.68383 305.69484)" textLength="18.616" lengthAdjust="spacingAndGlyphs">100</text>
    </g>
   </g>
   <g id="text_81">
    <text style="font-size: 10px; font-family: 'Liberation Sans'; text-anchor: middle" x="756.804319" y="338.661481" transform="translate(0.959 0.044) rotate(-87.378092 756.804319 338.661481)" textLength="63.531" lengthAdjust="spacingAndGlyphs">Removal (%)</text>
   </g>
  </g>
  <g id="axes_4">
   <g id="Path3DCollection_4">
    <defs>
     <path id="C3_0_fc6b160f12" d="M 0 2.291288 
C 0.607657 2.291288 1.190507 2.049863 1.620185 1.620185 
C 2.049863 1.190507 2.291288 0.607657 2.291288 -0 
C 2.291288 -0.607657 2.049863 -1.190507 1.620185 -1.620185 
C 1.190507 -2.049863 0.607657 -2.291288 0 -2.291288 
C -0.607657 -2.291288 -1.190507 -2.049863 -1.620185 -1.620185 
C -2.049863 -1.190507 -2.291288 -0.607657 -2.291288 0 
C -2.291288 0.607657 -2.049863 1.190507 -1.620185 1.620185 
C -1.190507 2.049863 -0.607657 2.291288 0 2.291288 
z
"/>
    </defs>
    <g clip-path="url(#p844c06b46f)">
     <use href="#C3_0_fc6b160f12" x="592.8" y="326.4" style="fill: #2c718e; fill-opacity: 0.3; stroke: #2c718e; stroke-opacity: 0.3"/>
    </g>
    <g clip-path="url(#p844c06b46f)">
     <use href="#C3_0_fc6b160f12" x="592.8" y="331.2" style="fill: #2c718e; fill-opacity: 0.334078; stroke: #2c718e; stroke-opacity: 0.334078"/>
    </g>
    <g clip-path="url(#p844c06b46f)">
     <use href="#C3_0_fc6b160f12" x="586.8" y="292.5" style="fill: #6ece58; fill-opacity: 0.374246; stroke: #6ece58; stroke-opacity: 0.374246"/>
    </g>
    <g clip-path="url(#p844c06b46f)">
     <use href="#C3_0_fc6b160f12" x="598.8" y="318.9" style="fill: #1e9b8a; fill-opacity: 0.380766; stroke: #1e9b8a; stroke-opacity: 0.380766"/>
    </g>
    <g clip-path="url(#p844c06b46f)">
     <use href="#C3_0_fc6b160f12" x="586.2" y="280.8" style="fill: #cae11f; fill-opacity: 0.403882; stroke: #cae11f; stroke-opacity: 0.403882"/>
    </g>
    <g clip-path="url(#p844c06b46f)">
     <use href="#C3_0_fc6b160f12" x="641.4" y="333.3" style="fill: #26828e; fill-opacity: 0.404425; stroke: #26828e; stroke-opacity: 0.404425"/>
    </g>
    <g clip-path="url(#p844c06b46f)">
     <use href="#C3_0_fc6b160f12" x="575.4" y="314.4" style="fill: #25ac82; fill-opacity: 0.404897; stroke: #25ac82; stroke-opacity: 0.404897"/>
    </g>
    <g clip-path="url(#p844c06b46f)">
     <use href="#C3_0_fc6b160f12" x="619.8" y="326.4" style="fill: #20938c; fill-opacity: 0.411019; stroke: #20938c; stroke-opacity: 0.411019"/>
    </g>
    <g clip-path="url(#p844c06b46f)">
     <use href="#C3_0_fc6b160f12" x="599.7" y="364.5" style="fill: #443a83; fill-opacity: 0.411867; stroke: #443a83; stroke-opacity: 0.411867"/>
    </g>
    <g clip-path="url(#p844c06b46f)">
     <use href="#C3_0_fc6b160f12" x="649.2" y="358.8" style="fill: #3c4f8a; fill-opacity: 0.426622; stroke: #3c4f8a; stroke-opacity: 0.426622"/>
    </g>
    <g clip-path="url(#p844c06b46f)">
     <use href="#C3_0_fc6b160f12" x="630" y="340.5" style="fill: #297b8e; fill-opacity: 0.431953; stroke: #297b8e; stroke-opacity: 0.431953"/>
    </g>
    <g clip-path="url(#p844c06b46f)">
     <use href="#C3_0_fc6b160f12" x="639.6" y="320.7" style="fill: #22a785; fill-opacity: 0.434802; stroke: #22a785; stroke-opacity: 0.434802"/>
    </g>
    <g clip-path="url(#p844c06b46f)">
     <use href="#C3_0_fc6b160f12" x="670.2" y="366" style="fill: #424086; fill-opacity: 0.43766; stroke: #424086; stroke-opacity: 0.43766"/>
    </g>
    <g clip-path="url(#p844c06b46f)">
     <use href="#C3_0_fc6b160f12" x="575.4" y="341.7" style="fill: #297b8e; fill-opacity: 0.440526; stroke: #297b8e; stroke-opacity: 0.440526"/>
    </g>
    <g clip-path="url(#p844c06b46f)">
     <use href="#C3_0_fc6b160f12" x="622.8" y="285.9" style="fill: #cae11f; fill-opacity: 0.443392; stroke: #cae11f; stroke-opacity: 0.443392"/>
    </g>
    <g clip-path="url(#p844c06b46f)">
     <use href="#C3_0_fc6b160f12" x="658.2" y="367.2" style="fill: #424086; fill-opacity: 0.445949; stroke: #424086; stroke-opacity: 0.445949"/>
    </g>
    <g clip-path="url(#p844c06b46f)">
     <use href="#C3_0_fc6b160f12" x="672.6" y="367.8" style="fill: #424086; fill-opacity: 0.450093; stroke: #424086; stroke-opacity: 0.450093"/>
    </g>
    <g clip-path="url(#p844c06b46f)">
     <use href="#C3_0_fc6b160f12" x="653.4" y="348.3" style="fill: #2c718e; fill-opacity: 0.45548; stroke: #2c718e; stroke-opacity: 0.45548"/>
    </g>
    <g clip-path="url(#p844c06b46f)">
     <use href="#C3_0_fc6b160f12" x="570.9" y="292.8" style="fill: #b0dd2f; fill-opacity: 0.461891; stroke: #b0dd2f; stroke-opacity: 0.461891"/>
    </g>
    <g clip-path="url(#p844c06b46f)">
     <use href="#C3_0_fc6b160f12" x="668.4" y="372.3" style="fill: #443a83; fill-opacity: 0.465581; stroke: #443a83; stroke-opacity: 0.465581"/>
    </g>
    <g clip-path="url(#p844c06b46f)">
     <use href="#C3_0_fc6b160f12" x="655.2" y="367.8" style="fill: #404688; fill-opacity: 0.465688; stroke: #404688; stroke-opacity: 0.465688"/>
    </g>
    <g clip-path="url(#p844c06b46f)">
     <use href="#C3_0_fc6b160f12" x="636" y="334.8" style="fill: #20938c; fill-opacity: 0.471977; stroke: #20938c; stroke-opacity: 0.471977"/>
    </g>
    <g clip-path="url(#p844c06b46f)">
     <use href="#C3_0_fc6b160f12" x="586.8" y="369.9" style="fill: #404688; fill-opacity: 0.480236; stroke: #404688; stroke-opacity: 0.480236"/>
    </g>
    <g clip-path="url(#p844c06b46f)">
     <use href="#C3_0_fc6b160f12" x="622.8" y="373.8" style="fill: #424086; fill-opacity: 0.491535; stroke: #424086; stroke-opacity: 0.491535"/>
    </g>
    <g clip-path="url(#p844c06b46f)">
     <use href="#C3_0_fc6b160f12" x="658.2" y="331.2" style="fill: #1fa287; fill-opacity: 0.495286; stroke: #1fa287; stroke-opacity: 0.495286"/>
    </g>
    <g clip-path="url(#p844c06b46f)">
     <use href="#C3_0_fc6b160f12" x="621.9" y="349.5" style="fill: #297b8e; fill-opacity: 0.496247; stroke: #297b8e; stroke-opacity: 0.496247"/>
    </g>
    <g clip-path="url(#p844c06b46f)">
     <use href="#C3_0_fc6b160f12" x="562.2" y="291.9" style="fill: #d2e21b; fill-opacity: 0.498677; stroke: #d2e21b; stroke-opacity: 0.498677"/>
    </g>
    <g clip-path="url(#p844c06b46f)">
     <use href="#C3_0_fc6b160f12" x="654.9" y="358.8" style="fill: #306a8e; fill-opacity: 0.505795; stroke: #306a8e; stroke-opacity: 0.505795"/>
    </g>
    <g clip-path="url(#p844c06b46f)">
     <use href="#C3_0_fc6b160f12" x="678" y="342" style="fill: #218f8d; fill-opacity: 0.507709; stroke: #218f8d; stroke-opacity: 0.507709"/>
    </g>
    <g clip-path="url(#p844c06b46f)">
     <use href="#C3_0_fc6b160f12" x="671.4" y="376.5" style="fill: #424086; fill-opacity: 0.510185; stroke: #424086; stroke-opacity: 0.510185"/>
    </g>
    <g clip-path="url(#p844c06b46f)">
     <use href="#C3_0_fc6b160f12" x="582.3" y="294" style="fill: #d2e21b; fill-opacity: 0.514974; stroke: #d2e21b; stroke-opacity: 0.514974"/>
    </g>
    <g clip-path="url(#p844c06b46f)">
     <use href="#C3_0_fc6b160f12" x="637.8" y="378.9" style="fill: #424086; fill-opacity: 0.526761; stroke: #424086; stroke-opacity: 0.526761"/>
    </g>
    <g clip-path="url(#p844c06b46f)">
     <use href="#C3_0_fc6b160f12" x="692.4" y="358.8" style="fill: #2c718e; fill-opacity: 0.530025; stroke: #2c718e; stroke-opacity: 0.530025"/>
    </g>
    <g clip-path="url(#p844c06b46f)">
     <use href="#C3_0_fc6b160f12" x="558.9" y="301.8" style="fill: #b0dd2f; fill-opacity: 0.531148; stroke: #b0dd2f; stroke-opacity: 0.531148"/>
    </g>
    <g clip-path="url(#p844c06b46f)">
     <use href="#C3_0_fc6b160f12" x="564.9" y="377.4" style="fill: #404688; fill-opacity: 0.532196; stroke: #404688; stroke-opacity: 0.532196"/>
    </g>
    <g clip-path="url(#p844c06b46f)">
     <use href="#C3_0_fc6b160f12" x="691.8" y="380.1" style="fill: #424086; fill-opacity: 0.53505; stroke: #424086; stroke-opacity: 0.53505"/>
    </g>
    <g clip-path="url(#p844c06b46f)">
     <use href="#C3_0_fc6b160f12" x="682.8" y="355.5" style="fill: #297b8e; fill-opacity: 0.53911; stroke: #297b8e; stroke-opacity: 0.53911"/>
    </g>
    <g clip-path="url(#p844c06b46f)">
     <use href="#C3_0_fc6b160f12" x="608.4" y="335.7" style="fill: #22a785; fill-opacity: 0.54505; stroke: #22a785; stroke-opacity: 0.54505"/>
    </g>
    <g clip-path="url(#p844c06b46f)">
     <use href="#C3_0_fc6b160f12" x="562.8" y="310.5" style="fill: #86d549; fill-opacity: 0.545174; stroke: #86d549; stroke-opacity: 0.545174"/>
    </g>
    <g clip-path="url(#p844c06b46f)">
     <use href="#C3_0_fc6b160f12" x="649.2" y="316.5" style="fill: #6ece58; fill-opacity: 0.555884; stroke: #6ece58; stroke-opacity: 0.555884"/>
    </g>
    <g clip-path="url(#p844c06b46f)">
     <use href="#C3_0_fc6b160f12" x="673.2" y="305.4" style="fill: #b0dd2f; fill-opacity: 0.558851; stroke: #b0dd2f; stroke-opacity: 0.558851"/>
    </g>
    <g clip-path="url(#p844c06b46f)">
     <use href="#C3_0_fc6b160f12" x="584.4" y="320.4" style="fill: #6ece58; fill-opacity: 0.5854; stroke: #6ece58; stroke-opacity: 0.5854"/>
    </g>
    <g clip-path="url(#p844c06b46f)">
     <use href="#C3_0_fc6b160f12" x="558.9" y="391.8" style="fill: #443a83; fill-opacity: 0.599864; stroke: #443a83; stroke-opacity: 0.599864"/>
    </g>
    <g clip-path="url(#p844c06b46f)">
     <use href="#C3_0_fc6b160f12" x="621.9" y="396" style="fill: #46307e; fill-opacity: 0.604838; stroke: #46307e; stroke-opacity: 0.604838"/>
    </g>
    <g clip-path="url(#p844c06b46f)">
     <use href="#C3_0_fc6b160f12" x="588.600001" y="353.4" style="fill: #20938c; fill-opacity: 0.606954; stroke: #20938c; stroke-opacity: 0.606954"/>
    </g>
    <g clip-path="url(#p844c06b46f)">
     <use href="#C3_0_fc6b160f12" x="659.4" y="306.9" style="fill: #d2e21b; fill-opacity: 0.615083; stroke: #d2e21b; stroke-opacity: 0.615083"/>
    </g>
    <g clip-path="url(#p844c06b46f)">
     <use href="#C3_0_fc6b160f12" x="616.8" y="374.4" style="fill: #306a8e; fill-opacity: 0.616036; stroke: #306a8e; stroke-opacity: 0.616036"/>
    </g>
    <g clip-path="url(#p844c06b46f)">
     <use href="#C3_0_fc6b160f12" x="590.7" y="355.8" style="fill: #20938c; fill-opacity: 0.62437; stroke: #20938c; stroke-opacity: 0.62437"/>
    </g>
    <g clip-path="url(#p844c06b46f)">
     <use href="#C3_0_fc6b160f12" x="612.3" y="369.9" style="fill: #2a768e; fill-opacity: 0.625354; stroke: #2a768e; stroke-opacity: 0.625354"/>
    </g>
    <g clip-path="url(#p844c06b46f)">
     <use href="#C3_0_fc6b160f12" x="644.4" y="349.5" style="fill: #1fa287; fill-opacity: 0.629359; stroke: #1fa287; stroke-opacity: 0.629359"/>
    </g>
    <g clip-path="url(#p844c06b46f)">
     <use href="#C3_0_fc6b160f12" x="580.8" y="394.5" style="fill: #424086; fill-opacity: 0.634512; stroke: #424086; stroke-opacity: 0.634512"/>
    </g>
    <g clip-path="url(#p844c06b46f)">
     <use href="#C3_0_fc6b160f12" x="642.300003" y="366" style="fill: #26828e; fill-opacity: 0.639124; stroke: #26828e; stroke-opacity: 0.639124"/>
    </g>
    <g clip-path="url(#p844c06b46f)">
     <use href="#C3_0_fc6b160f12" x="658.8" y="401.1" style="fill: #46307e; fill-opacity: 0.6398; stroke: #46307e; stroke-opacity: 0.6398"/>
    </g>
    <g clip-path="url(#p844c06b46f)">
     <use href="#C3_0_fc6b160f12" x="589.2" y="319.5" style="fill: #9bd93c; fill-opacity: 0.640413; stroke: #9bd93c; stroke-opacity: 0.640413"/>
    </g>
    <g clip-path="url(#p844c06b46f)">
     <use href="#C3_0_fc6b160f12" x="647.7" y="310.8" style="fill: #d2e21b; fill-opacity: 0.645348; stroke: #d2e21b; stroke-opacity: 0.645348"/>
    </g>
    <g clip-path="url(#p844c06b46f)">
     <use href="#C3_0_fc6b160f12" x="587.399998" y="359.4" style="fill: #20938c; fill-opacity: 0.650495; stroke: #20938c; stroke-opacity: 0.650495"/>
    </g>
    <g clip-path="url(#p844c06b46f)">
     <use href="#C3_0_fc6b160f12" x="627.3" y="371.4" style="fill: #297b8e; fill-opacity: 0.652696; stroke: #297b8e; stroke-opacity: 0.652696"/>
    </g>
    <g clip-path="url(#p844c06b46f)">
     <use href="#C3_0_fc6b160f12" x="560.1" y="329.4" style="fill: #6ece58; fill-opacity: 0.653514; stroke: #6ece58; stroke-opacity: 0.653514"/>
    </g>
    <g clip-path="url(#p844c06b46f)">
     <use href="#C3_0_fc6b160f12" x="594.3" y="348.3" style="fill: #25ac82; fill-opacity: 0.654859; stroke: #25ac82; stroke-opacity: 0.654859"/>
    </g>
    <g clip-path="url(#p844c06b46f)">
     <use href="#C3_0_fc6b160f12" x="529.8" y="348.3" style="fill: #25ac82; fill-opacity: 0.654859; stroke: #25ac82; stroke-opacity: 0.654859"/>
    </g>
    <g clip-path="url(#p844c06b46f)">
     <use href="#C3_0_fc6b160f12" x="618.9" y="403.5" style="fill: #46307e; fill-opacity: 0.656253; stroke: #46307e; stroke-opacity: 0.656253"/>
    </g>
    <g clip-path="url(#p844c06b46f)">
     <use href="#C3_0_fc6b160f12" x="537.3" y="363.3" style="fill: #218f8d; fill-opacity: 0.661792; stroke: #218f8d; stroke-opacity: 0.661792"/>
    </g>
    <g clip-path="url(#p844c06b46f)">
     <use href="#C3_0_fc6b160f12" x="535.2" y="401.1" style="fill: #443a83; fill-opacity: 0.663907; stroke: #443a83; stroke-opacity: 0.663907"/>
    </g>
    <g clip-path="url(#p844c06b46f)">
     <use href="#C3_0_fc6b160f12" x="659.700003" y="350.4" style="fill: #25ac82; fill-opacity: 0.670344; stroke: #25ac82; stroke-opacity: 0.670344"/>
    </g>
    <g clip-path="url(#p844c06b46f)">
     <use href="#C3_0_fc6b160f12" x="591.6" y="402.3" style="fill: #443a83; fill-opacity: 0.67217; stroke: #443a83; stroke-opacity: 0.67217"/>
    </g>
    <g clip-path="url(#p844c06b46f)">
     <use href="#C3_0_fc6b160f12" x="522" y="402.6" style="fill: #443a83; fill-opacity: 0.674236; stroke: #443a83; stroke-opacity: 0.674236"/>
    </g>
    <g clip-path="url(#p844c06b46f)">
     <use href="#C3_0_fc6b160f12" x="664.2" y="378.6" style="fill: #2a768e; fill-opacity: 0.687312; stroke: #2a768e; stroke-opacity: 0.687312"/>
    </g>
    <g clip-path="url(#p844c06b46f)">
     <use href="#C3_0_fc6b160f12" x="630.3" y="408.6" style="fill: #46307e; fill-opacity: 0.691216; stroke: #46307e; stroke-opacity: 0.691216"/>
    </g>
    <g clip-path="url(#p844c06b46f)">
     <use href="#C3_0_fc6b160f12" x="622.8" y="366" style="fill: #20938c; fill-opacity: 0.69839; stroke: #20938c; stroke-opacity: 0.69839"/>
    </g>
    <g clip-path="url(#p844c06b46f)">
     <use href="#C3_0_fc6b160f12" x="527.4" y="342.9" style="fill: #4cc26c; fill-opacity: 0.702082; stroke: #4cc26c; stroke-opacity: 0.702082"/>
    </g>
    <g clip-path="url(#p844c06b46f)">
     <use href="#C3_0_fc6b160f12" x="528.9" y="371.4" style="fill: #238a8d; fill-opacity: 0.703304; stroke: #238a8d; stroke-opacity: 0.703304"/>
    </g>
    <g clip-path="url(#p844c06b46f)">
     <use href="#C3_0_fc6b160f12" x="553.8" y="414.6" style="fill: #482878; fill-opacity: 0.708045; stroke: #482878; stroke-opacity: 0.708045"/>
    </g>
    <g clip-path="url(#p844c06b46f)">
     <use href="#C3_0_fc6b160f12" x="554.7" y="327.3" style="fill: #a0da39; fill-opacity: 0.709185; stroke: #a0da39; stroke-opacity: 0.709185"/>
    </g>
    <g clip-path="url(#p844c06b46f)">
     <use href="#C3_0_fc6b160f12" x="604.8" y="327.9" style="fill: #a0da39; fill-opacity: 0.713787; stroke: #a0da39; stroke-opacity: 0.713787"/>
    </g>
    <g clip-path="url(#p844c06b46f)">
     <use href="#C3_0_fc6b160f12" x="666.3" y="409.5" style="fill: #443a83; fill-opacity: 0.721752; stroke: #443a83; stroke-opacity: 0.721752"/>
    </g>
    <g clip-path="url(#p844c06b46f)">
     <use href="#C3_0_fc6b160f12" x="568.5" y="345.9" style="fill: #4cc26c; fill-opacity: 0.724564; stroke: #4cc26c; stroke-opacity: 0.724564"/>
    </g>
    <g clip-path="url(#p844c06b46f)">
     <use href="#C3_0_fc6b160f12" x="585.9" y="378" style="fill: #26828e; fill-opacity: 0.725252; stroke: #26828e; stroke-opacity: 0.725252"/>
    </g>
    <g clip-path="url(#p844c06b46f)">
     <use href="#C3_0_fc6b160f12" x="593.7" y="372.9" style="fill: #218f8d; fill-opacity: 0.731237; stroke: #218f8d; stroke-opacity: 0.731237"/>
    </g>
    <g clip-path="url(#p844c06b46f)">
     <use href="#C3_0_fc6b160f12" x="570.6" y="358.8" style="fill: #25ac82; fill-opacity: 0.732281; stroke: #25ac82; stroke-opacity: 0.732281"/>
    </g>
    <g clip-path="url(#p844c06b46f)">
     <use href="#C3_0_fc6b160f12" x="658.2" y="335.4" style="fill: #86d549; fill-opacity: 0.734875; stroke: #86d549; stroke-opacity: 0.734875"/>
    </g>
    <g clip-path="url(#p844c06b46f)">
     <use href="#C3_0_fc6b160f12" x="573.3" y="409.5" style="fill: #424086; fill-opacity: 0.738118; stroke: #424086; stroke-opacity: 0.738118"/>
    </g>
    <g clip-path="url(#p844c06b46f)">
     <use href="#C3_0_fc6b160f12" x="531.3" y="380.4" style="fill: #26828e; fill-opacity: 0.742477; stroke: #26828e; stroke-opacity: 0.742477"/>
    </g>
    <g clip-path="url(#p844c06b46f)">
     <use href="#C3_0_fc6b160f12" x="672.3" y="336.6" style="fill: #86d549; fill-opacity: 0.744018; stroke: #86d549; stroke-opacity: 0.744018"/>
    </g>
    <g clip-path="url(#p844c06b46f)">
     <use href="#C3_0_fc6b160f12" x="532.2" y="332.4" style="fill: #a0da39; fill-opacity: 0.7483; stroke: #a0da39; stroke-opacity: 0.7483"/>
    </g>
    <g clip-path="url(#p844c06b46f)">
     <use href="#C3_0_fc6b160f12" x="554.4" y="351.3" style="fill: #4cc26c; fill-opacity: 0.765032; stroke: #4cc26c; stroke-opacity: 0.765032"/>
    </g>
    <g clip-path="url(#p844c06b46f)">
     <use href="#C3_0_fc6b160f12" x="554.7" y="354.3" style="fill: #42be71; fill-opacity: 0.769601; stroke: #42be71; stroke-opacity: 0.769601"/>
    </g>
    <g clip-path="url(#p844c06b46f)">
     <use href="#C3_0_fc6b160f12" x="553.2" y="339.3" style="fill: #9bd93c; fill-opacity: 0.792015; stroke: #9bd93c; stroke-opacity: 0.792015"/>
    </g>
    <g clip-path="url(#p844c06b46f)">
     <use href="#C3_0_fc6b160f12" x="652.8" y="384" style="fill: #238a8d; fill-opacity: 0.794165; stroke: #238a8d; stroke-opacity: 0.794165"/>
    </g>
    <g clip-path="url(#p844c06b46f)">
     <use href="#C3_0_fc6b160f12" x="625.8" y="360" style="fill: #3aba76; fill-opacity: 0.794243; stroke: #3aba76; stroke-opacity: 0.794243"/>
    </g>
    <g clip-path="url(#p844c06b46f)">
     <use href="#C3_0_fc6b160f12" x="622.8" y="428.1" style="fill: #482878; fill-opacity: 0.80018; stroke: #482878; stroke-opacity: 0.80018"/>
    </g>
    <g clip-path="url(#p844c06b46f)">
     <use href="#C3_0_fc6b160f12" x="596.7" y="362.4" style="fill: #42be71; fill-opacity: 0.830105; stroke: #42be71; stroke-opacity: 0.830105"/>
    </g>
    <g clip-path="url(#p844c06b46f)">
     <use href="#C3_0_fc6b160f12" x="622.8" y="399.9" style="fill: #297b8e; fill-opacity: 0.856294; stroke: #297b8e; stroke-opacity: 0.856294"/>
    </g>
    <g clip-path="url(#p844c06b46f)">
     <use href="#C3_0_fc6b160f12" x="580.2" y="341.7" style="fill: #d2e21b; fill-opacity: 0.885143; stroke: #d2e21b; stroke-opacity: 0.885143"/>
    </g>
    <g clip-path="url(#p844c06b46f)">
     <use href="#C3_0_fc6b160f12" x="651.9" y="396.9" style="fill: #238a8d; fill-opacity: 0.88719; stroke: #238a8d; stroke-opacity: 0.88719"/>
    </g>
    <g clip-path="url(#p844c06b46f)">
     <use href="#C3_0_fc6b160f12" x="601.2" y="345.3" style="fill: #d2e21b; fill-opacity: 0.91308; stroke: #d2e21b; stroke-opacity: 0.91308"/>
    </g>
    <g clip-path="url(#p844c06b46f)">
     <use href="#C3_0_fc6b160f12" x="624.3" y="363.9" style="fill: #7ad151; fill-opacity: 0.933249; stroke: #7ad151; stroke-opacity: 0.933249"/>
    </g>
    <g clip-path="url(#p844c06b46f)">
     <use href="#C3_0_fc6b160f12" x="633.9" y="378" style="fill: #4cc26c; fill-opacity: 0.965122; stroke: #4cc26c; stroke-opacity: 0.965122"/>
    </g>
    <g clip-path="url(#p844c06b46f)">
     <use href="#C3_0_fc6b160f12" x="636.3" y="370.2" style="fill: #86d549; stroke: #86d549"/>
    </g>
   </g>
  </g>
  <g id="axes_5">
   <g id="patch_18">
    <path d="M 278.88 236.64 
L 291.12 236.64 
L 291.12 0.84 
L 278.88 0.84 
z
" style="fill: #ffffff"/>
   </g>
   <rect x="278.64" y="-0.72" width="12.24" height="235.44" fill="url(#vir)" transform="scale(1 -1) translate(0 -235.44)"/>
   <g id="matplotlib.axis_1"/>
   <g id="matplotlib.axis_2">
    <g id="ytick_1">
     <g id="line2d_82">
      <defs>
       <path id="m33c4ce201d" d="M 0 0 
L 3.5 0 
" style="stroke: #000000; stroke-width: 0.8"/>
      </defs>
      <g>
       <use href="#m33c4ce201d" x="291.12" y="191.725714" style="stroke: #000000; stroke-width: 0.8"/>
      </g>
     </g>
     <g id="text_82">
      <text style="font-size: 10px; font-family: 'Liberation Sans'; text-anchor: start" x="298.12" y="195.524933" transform="translate(0.000 0.960) rotate(-0 298.12 195.524933)" textLength="12.263" lengthAdjust="spacingAndGlyphs">20</text>
     </g>
    </g>
    <g id="ytick_2">
     <g id="line2d_83">
      <g>
       <use href="#m33c4ce201d" x="291.12" y="143.944559" style="stroke: #000000; stroke-width: 0.8"/>
      </g>
     </g>
     <g id="text_83">
      <text style="font-size: 10px; font-family: 'Liberation Sans'; text-anchor: start" x="298.12" y="147.743778" transform="translate(0.000 0.960) rotate(-0 298.12 147.743778)" textLength="12.177" lengthAdjust="spacingAndGlyphs">40</text>
     </g>
    </g>
    <g id="ytick_3">
     <g id="line2d_84">
      <g>
       <use href="#m33c4ce201d" x="291.12" y="96.163404" style="stroke: #000000; stroke-width: 0.8"/>
      </g>
     </g>
     <g id="text_84">
      <text style="font-size: 10px; font-family: 'Liberation Sans'; text-anchor: start" x="298.12" y="99.962623" transform="translate(0.000 0.960) rotate(-0 298.12 99.962623)" textLength="12.317" lengthAdjust="spacingAndGlyphs">60</text>
     </g>
    </g>
    <g id="ytick_4">
     <g id="line2d_85">
      <g>
       <use href="#m33c4ce201d" x="291.12" y="48.382249" style="stroke: #000000; stroke-width: 0.8"/>
      </g>
     </g>
     <g id="text_85">
      <text style="font-size: 10px; font-family: 'Liberation Sans'; text-anchor: start" x="298.12" y="52.181468" transform="translate(0.000 0.960) rotate(-0 298.12 52.181468)" textLength="12.311" lengthAdjust="spacingAndGlyphs">80</text>
     </g>
    </g>
    <g id="text_86">
     <text style="font-size: 10px; font-family: 'Liberation Sans'; text-anchor: middle" x="322.443438" y="118.74" transform="translate(0.960 0.000) rotate(-90 322.443438 118.74)" textLength="63.531" lengthAdjust="spacingAndGlyphs">Removal (%)</text>
    </g>
   </g>
   <g id="LineCollection_1"/>
   <g id="patch_19">
    <path d="M 278.88 236.64 
L 285 236.64 
L 291.12 236.64 
L 291.12 0.84 
L 285 0.84 
L 278.88 0.84 
L 278.88 236.64 
z
" style="fill: none; stroke: #000000; stroke-width: 0.8; stroke-linejoin: miter; stroke-linecap: square"/>
   </g>
  </g>
  <g id="axes_6">
   <g id="patch_20">
    <path d="M 776.28 236.64 
L 788.52 236.64 
L 788.52 0.84 
L 776.28 0.84 
z
" style="fill: #ffffff"/>
   </g>
   <rect x="776.16" y="-0.72" width="12.24" height="235.44" fill="url(#vir)" transform="scale(1 -1) translate(0 -235.44)"/>
   <g id="matplotlib.axis_3"/>
   <g id="matplotlib.axis_4">
    <g id="ytick_5">
     <g id="line2d_86">
      <g>
       <use href="#m33c4ce201d" x="788.52" y="191.725714" style="stroke: #000000; stroke-width: 0.8"/>
      </g>
     </g>
     <g id="text_87">
      <text style="font-size: 10px; font-family: 'Liberation Sans'; text-anchor: start" x="795.52" y="195.524933" transform="translate(0.000 0.960) rotate(-0 795.52 195.524933)" textLength="12.263" lengthAdjust="spacingAndGlyphs">20</text>
     </g>
    </g>
    <g id="ytick_6">
     <g id="line2d_87">
      <g>
       <use href="#m33c4ce201d" x="788.52" y="143.944559" style="stroke: #000000; stroke-width: 0.8"/>
      </g>
     </g>
     <g id="text_88">
      <text style="font-size: 10px; font-family: 'Liberation Sans'; text-anchor: start" x="795.52" y="147.743778" transform="translate(0.000 0.960) rotate(-0 795.52 147.743778)" textLength="12.177" lengthAdjust="spacingAndGlyphs">40</text>
     </g>
    </g>
    <g id="ytick_7">
     <g id="line2d_88">
      <g>
       <use href="#m33c4ce201d" x="788.52" y="96.163404" style="stroke: #000000; stroke-width: 0.8"/>
      </g>
     </g>
     <g id="text_89">
      <text style="font-size: 10px; font-family: 'Liberation Sans'; text-anchor: start" x="795.52" y="99.962623" transform="translate(0.000 0.960) rotate(-0 795.52 99.962623)" textLength="12.317" lengthAdjust="spacingAndGlyphs">60</text>
     </g>
    </g>
    <g id="ytick_8">
     <g id="line2d_89">
      <g>
       <use href="#m33c4ce201d" x="788.52" y="48.382249" style="stroke: #000000; stroke-width: 0.8"/>
      </g>
     </g>
     <g id="text_90">
      <text style="font-size: 10px; font-family: 'Liberation Sans'; text-anchor: start" x="795.52" y="52.181468" transform="translate(0.000 0.960) rotate(-0 795.52 52.181468)" textLength="12.311" lengthAdjust="spacingAndGlyphs">80</text>
     </g>
    </g>
    <g id="text_91">
     <text style="font-size: 10px; font-family: 'Liberation Sans'; text-anchor: middle" x="819.843438" y="118.74" transform="translate(0.960 0.000) rotate(-90 819.843438 118.74)" textLength="63.531" lengthAdjust="spacingAndGlyphs">Removal (%)</text>
    </g>
   </g>
   <g id="LineCollection_2"/>
   <g id="patch_21">
    <path d="M 776.28 236.64 
L 782.4 236.64 
L 788.52 236.64 
L 788.52 0.84 
L 782.4 0.84 
L 776.28 0.84 
L 776.28 236.64 
z
" style="fill: none; stroke: #000000; stroke-width: 0.8; stroke-linejoin: miter; stroke-linecap: square"/>
   </g>
  </g>
  <g id="axes_7">
   <g id="patch_22">
    <path d="M 278.88 478.74 
L 291.12 478.74 
L 291.12 242.94 
L 278.88 242.94 
z
" style="fill: #ffffff"/>
   </g>
   <rect x="278.64" y="-242.64" width="12.24" height="236.16" fill="url(#vir)" transform="scale(1 -1) translate(0 -236.16)"/>
   <g id="matplotlib.axis_5"/>
   <g id="matplotlib.axis_6">
    <g id="ytick_9">
     <g id="line2d_90">
      <g>
       <use href="#m33c4ce201d" x="291.12" y="433.825714" style="stroke: #000000; stroke-width: 0.8"/>
      </g>
     </g>
     <g id="text_92">
      <text style="font-size: 10px; font-family: 'Liberation Sans'; text-anchor: start" x="298.12" y="437.624933" transform="translate(0.000 0.960) rotate(-0 298.12 437.624933)" textLength="12.263" lengthAdjust="spacingAndGlyphs">20</text>
     </g>
    </g>
    <g id="ytick_10">
     <g id="line2d_91">
      <g>
       <use href="#m33c4ce201d" x="291.12" y="386.044559" style="stroke: #000000; stroke-width: 0.8"/>
      </g>
     </g>
     <g id="text_93">
      <text style="font-size: 10px; font-family: 'Liberation Sans'; text-anchor: start" x="298.12" y="389.843778" transform="translate(0.000 0.960) rotate(-0 298.12 389.843778)" textLength="12.177" lengthAdjust="spacingAndGlyphs">40</text>
     </g>
    </g>
    <g id="ytick_11">
     <g id="line2d_92">
      <g>
       <use href="#m33c4ce201d" x="291.12" y="338.263404" style="stroke: #000000; stroke-width: 0.8"/>
      </g>
     </g>
     <g id="text_94">
      <text style="font-size: 10px; font-family: 'Liberation Sans'; text-anchor: start" x="298.12" y="342.062623" transform="translate(0.000 0.960) rotate(-0 298.12 342.062623)" textLength="12.317" lengthAdjust="spacingAndGlyphs">60</text>
     </g>
    </g>
    <g id="ytick_12">
     <g id="line2d_93">
      <g>
       <use href="#m33c4ce201d" x="291.12" y="290.482249" style="stroke: #000000; stroke-width: 0.8"/>
      </g>
     </g>
     <g id="text_95">
      <text style="font-size: 10px; font-family: 'Liberation Sans'; text-anchor: start" x="298.12" y="294.281468" transform="translate(0.000 0.960) rotate(-0 298.12 294.281468)" textLength="12.311" lengthAdjust="spacingAndGlyphs">80</text>
     </g>
    </g>
    <g id="text_96">
     <text style="font-size: 10px; font-family: 'Liberation Sans'; text-anchor: middle" x="322.443438" y="360.84" transform="translate(0.960 0.000) rotate(-90 322.443438 360.84)" textLength="63.531" lengthAdjust="spacingAndGlyphs">Removal (%)</text>
    </g>
   </g>
   <g id="LineCollection_3"/>
   <g id="patch_23">
    <path d="M 278.88 478.74 
L 285 478.74 
L 291.12 478.74 
L 291.12 242.94 
L 285 242.94 
L 278.88 242.94 
L 278.88 478.74 
z
" style="fill: none; stroke: #000000; stroke-width: 0.8; stroke-linejoin: miter; stroke-linecap: square"/>
   </g>
  </g>
  <g id="axes_8">
   <g id="patch_24">
    <path d="M 776.28 478.74 
L 788.52 478.74 
L 788.52 242.94 
L 776.28 242.94 
z
" style="fill: #ffffff"/>
   </g>
   <rect x="776.16" y="-242.64" width="12.24" height="236.16" fill="url(#vir)" transform="scale(1 -1) translate(0 -236.16)"/>
   <g id="matplotlib.axis_7"/>
   <g id="matplotlib.axis_8">
    <g id="ytick_13">
     <g id="line2d_94">
      <g>
       <use href="#m33c4ce201d" x="788.52" y="433.825714" style="stroke: #000000; stroke-width: 0.8"/>
      </g>
     </g>
     <g id="text_97">
      <text style="font-size: 10px; font-family: 'Liberation Sans'; text-anchor: start" x="795.52" y="437.624933" transform="translate(0.000 0.960) rotate(-0 795.52 437.624933)" textLength="12.263" lengthAdjust="spacingAndGlyphs">20</text>
     </g>
    </g>
    <g id="ytick_14">
     <g id="line2d_95">
      <g>
       <use href="#m33c4ce201d" x="788.52" y="386.044559" style="stroke: #000000; stroke-width: 0.8"/>
      </g>
     </g>
     <g id="text_98">
      <text style="font-size: 10px; font-family: 'Liberation Sans'; text-anchor: start" x="795.52" y="389.843778" transform="translate(0.000 0.960) rotate(-0 795.52 389.843778)" textLength="12.177" lengthAdjust="spacingAndGlyphs">40</text>
     </g>
    </g>
    <g id="ytick_15">
     <g id="line2d_96">
      <g>
       <use href="#m33c4ce201d" x="788.52" y="338.263404" style="stroke: #000000; stroke-width: 0.8"/>
      </g>
     </g>
     <g id="text_99">
      <text style="font-size: 10px; font-family: 'Liberation Sans'; text-anchor: start" x="795.52" y="342.062623" transform="translate(0.000 0.960) rotate(-0 795.52 342.062623)" textLength="12.317" lengthAdjust="spacingAndGlyphs">60</text>
     </g>
    </g>
    <g id="ytick_16">
     <g id="line2d_97">
      <g>
       <use href="#m33c4ce201d" x="788.52" y="290.482249" style="stroke: #000000; stroke-width: 0.8"/>
      </g>
     </g>
     <g id="text_100">
      <text style="font-size: 10px; font-family: 'Liberation Sans'; text-anchor: start" x="795.52" y="294.281468" transform="translate(0.000 0.960) rotate(-0 795.52 294.281468)" textLength="12.311" lengthAdjust="spacingAndGlyphs">80</text>
     </g>
    </g>
    <g id="text_101">
     <text style="font-size: 10px; font-family: 'Liberation Sans'; text-anchor: middle" x="819.843438" y="360.84" transform="translate(0.960 0.000) rotate(-90 819.843438 360.84)" textLength="63.531" lengthAdjust="spacingAndGlyphs">Removal (%)</text>
    </g>
   </g>
   <g id="LineCollection_4"/>
   <g id="patch_25">
    <path d="M 776.28 478.74 
L 782.4 478.74 
L 788.52 478.74 
L 788.52 242.94 
L 782.4 242.94 
L 776.28 242.94 
L 776.28 478.74 
z
" style="fill: none; stroke: #000000; stroke-width: 0.8; stroke-linejoin: miter; stroke-linecap: square"/>
   </g>
  </g>
 </g>
 <defs>
  <clipPath id="p2b1c7608ae">
   <rect x="-6.84" y="0.6" width="236.16" height="236.16"/>
  </clipPath>
  <clipPath id="p4ad430866b">
   <rect x="490.56" y="0.6" width="236.16" height="236.16"/>
  </clipPath>
  <clipPath id="p444269ef8e">
   <rect x="-6.84" y="242.7" width="236.16" height="236.16"/>
  </clipPath>
  <clipPath id="p844c06b46f">
   <rect x="490.56" y="242.7" width="236.16" height="236.16"/>
  </clipPath>
 </defs>
</svg>
</body></html>
